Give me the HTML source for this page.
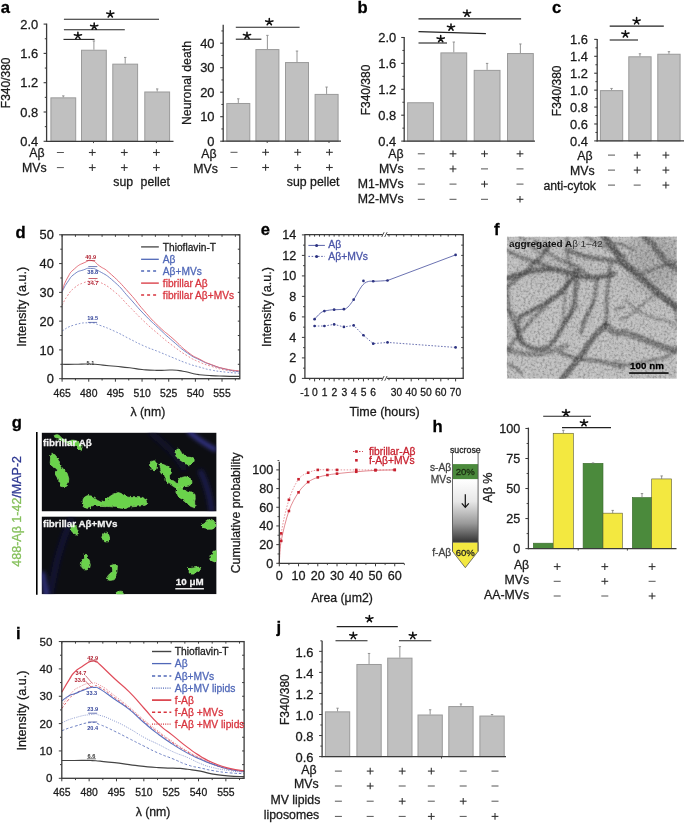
<!DOCTYPE html><html><head><meta charset="utf-8"><style>html,body{margin:0;padding:0;background:#fff;}svg{display:block;font-family:"Liberation Sans",sans-serif;filter:blur(0.3px);}</style></head><body>
<svg width="685" height="823" viewBox="0 0 685 823">
<rect x="0" y="0" width="685" height="823" fill="#ffffff" stroke="none" stroke-width="1" />
<text x="0.7" y="13.3" font-size="16.6" text-anchor="start" fill="#000" font-weight="bold" stroke="#000" stroke-width="0.28" >a</text>
<rect x="50.9" y="97.85" width="24.8" height="43.45" fill="#c0c0c0" stroke="#9a9a9a" stroke-width="1" />
<line x1="63.3" y1="95.89" x2="63.3" y2="97.35" stroke="#8a8a8a" stroke-width="0.9" />
<line x1="62.1" y1="95.89" x2="64.5" y2="95.89" stroke="#8a8a8a" stroke-width="0.9" />
<rect x="81.5" y="50.24" width="24.8" height="91.06" fill="#c0c0c0" stroke="#9a9a9a" stroke-width="1" />
<line x1="93.9" y1="40.95" x2="93.9" y2="49.74" stroke="#8a8a8a" stroke-width="0.9" />
<line x1="92.7" y1="40.95" x2="95.1" y2="40.95" stroke="#8a8a8a" stroke-width="0.9" />
<rect x="112.8" y="64.16" width="24.8" height="77.14" fill="#c0c0c0" stroke="#9a9a9a" stroke-width="1" />
<line x1="125.2" y1="57.43" x2="125.2" y2="63.66" stroke="#8a8a8a" stroke-width="0.9" />
<line x1="124" y1="57.43" x2="126.4" y2="57.43" stroke="#8a8a8a" stroke-width="0.9" />
<rect x="144.8" y="91.99" width="24.8" height="49.31" fill="#c0c0c0" stroke="#9a9a9a" stroke-width="1" />
<line x1="157.2" y1="88.93" x2="157.2" y2="91.49" stroke="#8a8a8a" stroke-width="0.9" />
<line x1="156" y1="88.93" x2="158.4" y2="88.93" stroke="#8a8a8a" stroke-width="0.9" />
<line x1="46.6" y1="23.6" x2="46.6" y2="141.9" stroke="#3a3a3a" stroke-width="1.3" />
<line x1="46" y1="141.3" x2="173.5" y2="141.3" stroke="#3a3a3a" stroke-width="1.3" />
<line x1="43.6" y1="141.3" x2="46.6" y2="141.3" stroke="#3a3a3a" stroke-width="1.1" />
<text x="38.2" y="145.92" font-size="12.9" text-anchor="end" fill="#1a1a1a" font-weight="normal" stroke="#1a1a1a" stroke-width="0.28" >0.4</text>
<line x1="43.6" y1="112" x2="46.6" y2="112" stroke="#3a3a3a" stroke-width="1.1" />
<text x="38.2" y="116.62" font-size="12.9" text-anchor="end" fill="#1a1a1a" font-weight="normal" stroke="#1a1a1a" stroke-width="0.28" >0.8</text>
<line x1="43.6" y1="82.7" x2="46.6" y2="82.7" stroke="#3a3a3a" stroke-width="1.1" />
<text x="38.2" y="87.32" font-size="12.9" text-anchor="end" fill="#1a1a1a" font-weight="normal" stroke="#1a1a1a" stroke-width="0.28" >1.2</text>
<line x1="43.6" y1="53.4" x2="46.6" y2="53.4" stroke="#3a3a3a" stroke-width="1.1" />
<text x="38.2" y="58.02" font-size="12.9" text-anchor="end" fill="#1a1a1a" font-weight="normal" stroke="#1a1a1a" stroke-width="0.28" >1.6</text>
<line x1="43.6" y1="24.1" x2="46.6" y2="24.1" stroke="#3a3a3a" stroke-width="1.1" />
<text x="38.2" y="28.72" font-size="12.9" text-anchor="end" fill="#1a1a1a" font-weight="normal" stroke="#1a1a1a" stroke-width="0.28" >2.0</text>
<line x1="44.8" y1="126.65" x2="46.6" y2="126.65" stroke="#3a3a3a" stroke-width="1" />
<line x1="44.8" y1="97.35" x2="46.6" y2="97.35" stroke="#3a3a3a" stroke-width="1" />
<line x1="44.8" y1="68.05" x2="46.6" y2="68.05" stroke="#3a3a3a" stroke-width="1" />
<line x1="44.8" y1="38.75" x2="46.6" y2="38.75" stroke="#3a3a3a" stroke-width="1" />
<line x1="93.5" y1="141.3" x2="93.5" y2="143.1" stroke="#3a3a3a" stroke-width="0.9" />
<line x1="156.4" y1="141.3" x2="156.4" y2="143.1" stroke="#3a3a3a" stroke-width="0.9" />
<text x="0" y="0" font-size="12" text-anchor="middle" fill="#1a1a1a" stroke="#1a1a1a" stroke-width="0.28" transform="translate(6,82.8) rotate(-90) translate(0,4.3)">F340/380</text>
<line x1="63.9" y1="19.3" x2="159" y2="19.3" stroke="#222" stroke-width="1.1" />
<path d="M110.3,14 L110.3,10.7 M110.3,14 L106.7,13.1 M110.3,14 L113.9,13.1 M110.3,14 L108.2,17 M110.3,14 L112.4,17" stroke="#111" stroke-width="1.55" fill="none" stroke-linecap="round"/>
<line x1="63.9" y1="29.8" x2="124.8" y2="29.8" stroke="#222" stroke-width="1.1" />
<path d="M94.2,26.3 L94.2,23 M94.2,26.3 L90.6,25.4 M94.2,26.3 L97.8,25.4 M94.2,26.3 L92.1,29.3 M94.2,26.3 L96.3,29.3" stroke="#111" stroke-width="1.55" fill="none" stroke-linecap="round"/>
<line x1="63.5" y1="39.4" x2="94.5" y2="39.4" stroke="#222" stroke-width="1.1" />
<path d="M77.9,35.6 L77.9,32.3 M77.9,35.6 L74.3,34.7 M77.9,35.6 L81.5,34.7 M77.9,35.6 L75.8,38.6 M77.9,35.6 L80,38.6" stroke="#111" stroke-width="1.55" fill="none" stroke-linecap="round"/>
<text x="44.6" y="156.85" font-size="12.3" text-anchor="end" fill="#1a1a1a" font-weight="normal" stroke="#1a1a1a" stroke-width="0.28" >A&#946;</text>
<line x1="56.9" y1="152.5" x2="63.9" y2="152.5" stroke="#555" stroke-width="1" />
<line x1="88.9" y1="152.5" x2="95.7" y2="152.5" stroke="#333" stroke-width="1.1" />
<line x1="92.3" y1="149.2" x2="92.3" y2="155.8" stroke="#333" stroke-width="1.1" />
<line x1="120.9" y1="152.5" x2="127.7" y2="152.5" stroke="#333" stroke-width="1.1" />
<line x1="124.3" y1="149.2" x2="124.3" y2="155.8" stroke="#333" stroke-width="1.1" />
<line x1="153" y1="152.5" x2="159.8" y2="152.5" stroke="#333" stroke-width="1.1" />
<line x1="156.4" y1="149.2" x2="156.4" y2="155.8" stroke="#333" stroke-width="1.1" />
<text x="46.6" y="171.75" font-size="12.3" text-anchor="end" fill="#1a1a1a" font-weight="normal" stroke="#1a1a1a" stroke-width="0.28" >MVs</text>
<line x1="56.9" y1="167.6" x2="63.9" y2="167.6" stroke="#555" stroke-width="1" />
<line x1="88.9" y1="167.6" x2="95.7" y2="167.6" stroke="#333" stroke-width="1.1" />
<line x1="92.3" y1="164.3" x2="92.3" y2="170.9" stroke="#333" stroke-width="1.1" />
<line x1="120.9" y1="167.6" x2="127.7" y2="167.6" stroke="#333" stroke-width="1.1" />
<line x1="124.3" y1="164.3" x2="124.3" y2="170.9" stroke="#333" stroke-width="1.1" />
<line x1="153" y1="167.6" x2="159.8" y2="167.6" stroke="#333" stroke-width="1.1" />
<line x1="156.4" y1="164.3" x2="156.4" y2="170.9" stroke="#333" stroke-width="1.1" />
<text x="123.2" y="186.3" font-size="12.3" text-anchor="middle" fill="#1a1a1a" font-weight="normal" stroke="#1a1a1a" stroke-width="0.28" >sup</text>
<text x="155.3" y="186.3" font-size="12.3" text-anchor="middle" fill="#1a1a1a" font-weight="normal" stroke="#1a1a1a" stroke-width="0.28" >pellet</text>
<rect x="226.8" y="103.48" width="23" height="37.72" fill="#c0c0c0" stroke="#9a9a9a" stroke-width="1" />
<line x1="238.3" y1="98.81" x2="238.3" y2="102.98" stroke="#8a8a8a" stroke-width="0.9" />
<line x1="237.1" y1="98.81" x2="239.5" y2="98.81" stroke="#8a8a8a" stroke-width="0.9" />
<rect x="255.9" y="49.58" width="23" height="91.62" fill="#c0c0c0" stroke="#9a9a9a" stroke-width="1" />
<line x1="267.4" y1="35.36" x2="267.4" y2="49.08" stroke="#8a8a8a" stroke-width="0.9" />
<line x1="266.2" y1="35.36" x2="268.6" y2="35.36" stroke="#8a8a8a" stroke-width="0.9" />
<rect x="285.5" y="62.56" width="23" height="78.63" fill="#c0c0c0" stroke="#9a9a9a" stroke-width="1" />
<line x1="297" y1="51.04" x2="297" y2="62.06" stroke="#8a8a8a" stroke-width="0.9" />
<line x1="295.8" y1="51.04" x2="298.2" y2="51.04" stroke="#8a8a8a" stroke-width="0.9" />
<rect x="315.1" y="94.41" width="23" height="46.78" fill="#c0c0c0" stroke="#9a9a9a" stroke-width="1" />
<line x1="326.6" y1="87.05" x2="326.6" y2="93.91" stroke="#8a8a8a" stroke-width="0.9" />
<line x1="325.4" y1="87.05" x2="327.8" y2="87.05" stroke="#8a8a8a" stroke-width="0.9" />
<line x1="223.2" y1="24.8" x2="223.2" y2="141.8" stroke="#3a3a3a" stroke-width="1.3" />
<line x1="222.6" y1="141.2" x2="341" y2="141.2" stroke="#3a3a3a" stroke-width="1.3" />
<line x1="220.2" y1="141.2" x2="223.2" y2="141.2" stroke="#3a3a3a" stroke-width="1.1" />
<text x="214.5" y="145.82" font-size="12.9" text-anchor="end" fill="#1a1a1a" font-weight="normal" stroke="#1a1a1a" stroke-width="0.28" >0</text>
<line x1="220.2" y1="116.7" x2="223.2" y2="116.7" stroke="#3a3a3a" stroke-width="1.1" />
<text x="214.5" y="121.32" font-size="12.9" text-anchor="end" fill="#1a1a1a" font-weight="normal" stroke="#1a1a1a" stroke-width="0.28" >10</text>
<line x1="220.2" y1="92.2" x2="223.2" y2="92.2" stroke="#3a3a3a" stroke-width="1.1" />
<text x="214.5" y="96.82" font-size="12.9" text-anchor="end" fill="#1a1a1a" font-weight="normal" stroke="#1a1a1a" stroke-width="0.28" >20</text>
<line x1="220.2" y1="67.7" x2="223.2" y2="67.7" stroke="#3a3a3a" stroke-width="1.1" />
<text x="214.5" y="72.32" font-size="12.9" text-anchor="end" fill="#1a1a1a" font-weight="normal" stroke="#1a1a1a" stroke-width="0.28" >30</text>
<line x1="220.2" y1="43.2" x2="223.2" y2="43.2" stroke="#3a3a3a" stroke-width="1.1" />
<text x="214.5" y="47.82" font-size="12.9" text-anchor="end" fill="#1a1a1a" font-weight="normal" stroke="#1a1a1a" stroke-width="0.28" >40</text>
<line x1="221.4" y1="128.95" x2="223.2" y2="128.95" stroke="#3a3a3a" stroke-width="1" />
<line x1="221.4" y1="104.45" x2="223.2" y2="104.45" stroke="#3a3a3a" stroke-width="1" />
<line x1="221.4" y1="79.95" x2="223.2" y2="79.95" stroke="#3a3a3a" stroke-width="1" />
<line x1="221.4" y1="55.45" x2="223.2" y2="55.45" stroke="#3a3a3a" stroke-width="1" />
<line x1="221.4" y1="30.95" x2="223.2" y2="30.95" stroke="#3a3a3a" stroke-width="1" />
<line x1="267.2" y1="141.2" x2="267.2" y2="143" stroke="#3a3a3a" stroke-width="0.9" />
<line x1="329" y1="141.2" x2="329" y2="143" stroke="#3a3a3a" stroke-width="0.9" />
<text x="0" y="0" font-size="12.3" text-anchor="middle" fill="#1a1a1a" stroke="#1a1a1a" stroke-width="0.28" transform="translate(186.2,83) rotate(-90) translate(0,4.4)">Neuronal death</text>
<line x1="235.8" y1="27.3" x2="299.6" y2="27.3" stroke="#222" stroke-width="1.1" />
<path d="M269.3,21.8 L269.3,18.5 M269.3,21.8 L265.7,20.9 M269.3,21.8 L272.9,20.9 M269.3,21.8 L267.2,24.8 M269.3,21.8 L271.4,24.8" stroke="#111" stroke-width="1.55" fill="none" stroke-linecap="round"/>
<line x1="235.8" y1="39.2" x2="261.4" y2="39.2" stroke="#222" stroke-width="1.1" />
<path d="M247,35.5 L247,32.2 M247,35.5 L243.4,34.6 M247,35.5 L250.6,34.6 M247,35.5 L244.9,38.5 M247,35.5 L249.1,38.5" stroke="#111" stroke-width="1.55" fill="none" stroke-linecap="round"/>
<text x="216.5" y="158.15" font-size="12.3" text-anchor="end" fill="#1a1a1a" font-weight="normal" stroke="#1a1a1a" stroke-width="0.28" >A&#946;</text>
<line x1="230.5" y1="152.3" x2="237.5" y2="152.3" stroke="#555" stroke-width="1" />
<line x1="262.2" y1="152.3" x2="269" y2="152.3" stroke="#333" stroke-width="1.1" />
<line x1="265.6" y1="149" x2="265.6" y2="155.6" stroke="#333" stroke-width="1.1" />
<line x1="294.3" y1="152.3" x2="301.1" y2="152.3" stroke="#333" stroke-width="1.1" />
<line x1="297.7" y1="149" x2="297.7" y2="155.6" stroke="#333" stroke-width="1.1" />
<line x1="326" y1="152.3" x2="332.8" y2="152.3" stroke="#333" stroke-width="1.1" />
<line x1="329.4" y1="149" x2="329.4" y2="155.6" stroke="#333" stroke-width="1.1" />
<text x="217.8" y="172.5" font-size="12.3" text-anchor="end" fill="#1a1a1a" font-weight="normal" stroke="#1a1a1a" stroke-width="0.28" >MVs</text>
<line x1="230.5" y1="167.5" x2="237.5" y2="167.5" stroke="#555" stroke-width="1" />
<line x1="262.2" y1="167.5" x2="269" y2="167.5" stroke="#333" stroke-width="1.1" />
<line x1="265.6" y1="164.2" x2="265.6" y2="170.8" stroke="#333" stroke-width="1.1" />
<line x1="294.3" y1="167.5" x2="301.1" y2="167.5" stroke="#333" stroke-width="1.1" />
<line x1="297.7" y1="164.2" x2="297.7" y2="170.8" stroke="#333" stroke-width="1.1" />
<line x1="326" y1="167.5" x2="332.8" y2="167.5" stroke="#333" stroke-width="1.1" />
<line x1="329.4" y1="164.2" x2="329.4" y2="170.8" stroke="#333" stroke-width="1.1" />
<text x="286.8" y="186" font-size="12.3" text-anchor="start" fill="#1a1a1a" font-weight="normal" stroke="#1a1a1a" stroke-width="0.28" >sup pellet</text>
<text x="357.4" y="13.2" font-size="16.6" text-anchor="start" fill="#000" font-weight="bold" stroke="#000" stroke-width="0.28" >b</text>
<rect x="407.6" y="102.75" width="25.8" height="38.35" fill="#c0c0c0" stroke="#9a9a9a" stroke-width="1" />
<rect x="440.9" y="52.89" width="25.8" height="88.21" fill="#c0c0c0" stroke="#9a9a9a" stroke-width="1" />
<line x1="453.8" y1="42.03" x2="453.8" y2="52.39" stroke="#8a8a8a" stroke-width="0.9" />
<line x1="452.6" y1="42.03" x2="455" y2="42.03" stroke="#8a8a8a" stroke-width="0.9" />
<rect x="474.2" y="70.38" width="25.8" height="70.72" fill="#c0c0c0" stroke="#9a9a9a" stroke-width="1" />
<line x1="487.1" y1="63.4" x2="487.1" y2="69.88" stroke="#8a8a8a" stroke-width="0.9" />
<line x1="485.9" y1="63.4" x2="488.3" y2="63.4" stroke="#8a8a8a" stroke-width="0.9" />
<rect x="507.5" y="53.54" width="25.8" height="87.56" fill="#c0c0c0" stroke="#9a9a9a" stroke-width="1" />
<line x1="520.4" y1="43.97" x2="520.4" y2="53.04" stroke="#8a8a8a" stroke-width="0.9" />
<line x1="519.2" y1="43.97" x2="521.6" y2="43.97" stroke="#8a8a8a" stroke-width="0.9" />
<line x1="404.2" y1="37" x2="404.2" y2="141.7" stroke="#3a3a3a" stroke-width="1.3" />
<line x1="403.6" y1="141.1" x2="535" y2="141.1" stroke="#3a3a3a" stroke-width="1.3" />
<line x1="401.2" y1="141.1" x2="404.2" y2="141.1" stroke="#3a3a3a" stroke-width="1.1" />
<text x="396.2" y="145.72" font-size="12.9" text-anchor="end" fill="#1a1a1a" font-weight="normal" stroke="#1a1a1a" stroke-width="0.28" >0.4</text>
<line x1="401.2" y1="115.2" x2="404.2" y2="115.2" stroke="#3a3a3a" stroke-width="1.1" />
<text x="396.2" y="119.82" font-size="12.9" text-anchor="end" fill="#1a1a1a" font-weight="normal" stroke="#1a1a1a" stroke-width="0.28" >0.8</text>
<line x1="401.2" y1="89.3" x2="404.2" y2="89.3" stroke="#3a3a3a" stroke-width="1.1" />
<text x="396.2" y="93.92" font-size="12.9" text-anchor="end" fill="#1a1a1a" font-weight="normal" stroke="#1a1a1a" stroke-width="0.28" >1.2</text>
<line x1="401.2" y1="63.4" x2="404.2" y2="63.4" stroke="#3a3a3a" stroke-width="1.1" />
<text x="396.2" y="68.02" font-size="12.9" text-anchor="end" fill="#1a1a1a" font-weight="normal" stroke="#1a1a1a" stroke-width="0.28" >1.6</text>
<line x1="401.2" y1="37.5" x2="404.2" y2="37.5" stroke="#3a3a3a" stroke-width="1.1" />
<text x="396.2" y="42.12" font-size="12.9" text-anchor="end" fill="#1a1a1a" font-weight="normal" stroke="#1a1a1a" stroke-width="0.28" >2.0</text>
<line x1="402.4" y1="128.15" x2="404.2" y2="128.15" stroke="#3a3a3a" stroke-width="1" />
<line x1="402.4" y1="102.25" x2="404.2" y2="102.25" stroke="#3a3a3a" stroke-width="1" />
<line x1="402.4" y1="76.35" x2="404.2" y2="76.35" stroke="#3a3a3a" stroke-width="1" />
<line x1="402.4" y1="50.45" x2="404.2" y2="50.45" stroke="#3a3a3a" stroke-width="1" />
<text x="0" y="0" font-size="12" text-anchor="middle" fill="#1a1a1a" stroke="#1a1a1a" stroke-width="0.28" transform="translate(366,90) rotate(-90) translate(0,4.3)">F340/380</text>
<line x1="418.5" y1="18.9" x2="521.1" y2="18.9" stroke="#222" stroke-width="1.1" />
<path d="M467,13.3 L467,10 M467,13.3 L463.4,12.4 M467,13.3 L470.6,12.4 M467,13.3 L464.9,16.3 M467,13.3 L469.1,16.3" stroke="#111" stroke-width="1.55" fill="none" stroke-linecap="round"/>
<line x1="418.5" y1="31.6" x2="485.9" y2="33.6" stroke="#222" stroke-width="1.1" />
<path d="M451,27.2 L451,23.9 M451,27.2 L447.4,26.3 M451,27.2 L454.6,26.3 M451,27.2 L448.9,30.2 M451,27.2 L453.1,30.2" stroke="#111" stroke-width="1.55" fill="none" stroke-linecap="round"/>
<line x1="418.5" y1="43" x2="447" y2="43" stroke="#222" stroke-width="1.1" />
<path d="M440.7,38.8 L440.7,35.5 M440.7,38.8 L437.1,37.9 M440.7,38.8 L444.3,37.9 M440.7,38.8 L438.6,41.8 M440.7,38.8 L442.8,41.8" stroke="#111" stroke-width="1.55" fill="none" stroke-linecap="round"/>
<text x="403.6" y="157.95" font-size="12.3" text-anchor="end" fill="#1a1a1a" font-weight="normal" stroke="#1a1a1a" stroke-width="0.28" >A&#946;</text>
<line x1="417.8" y1="153.8" x2="424.8" y2="153.8" stroke="#555" stroke-width="1" />
<line x1="449.6" y1="153.8" x2="456.4" y2="153.8" stroke="#333" stroke-width="1.1" />
<line x1="453" y1="150.5" x2="453" y2="157.1" stroke="#333" stroke-width="1.1" />
<line x1="481.1" y1="153.8" x2="487.9" y2="153.8" stroke="#333" stroke-width="1.1" />
<line x1="484.5" y1="150.5" x2="484.5" y2="157.1" stroke="#333" stroke-width="1.1" />
<line x1="516.6" y1="153.8" x2="523.4" y2="153.8" stroke="#333" stroke-width="1.1" />
<line x1="520" y1="150.5" x2="520" y2="157.1" stroke="#333" stroke-width="1.1" />
<text x="403.6" y="172.7" font-size="12.3" text-anchor="end" fill="#1a1a1a" font-weight="normal" stroke="#1a1a1a" stroke-width="0.28" >MVs</text>
<line x1="417.8" y1="168.9" x2="424.8" y2="168.9" stroke="#555" stroke-width="1" />
<line x1="449.6" y1="168.9" x2="456.4" y2="168.9" stroke="#333" stroke-width="1.1" />
<line x1="453" y1="165.6" x2="453" y2="172.2" stroke="#333" stroke-width="1.1" />
<line x1="481" y1="168.9" x2="488" y2="168.9" stroke="#555" stroke-width="1" />
<line x1="516.5" y1="168.9" x2="523.5" y2="168.9" stroke="#555" stroke-width="1" />
<text x="403.6" y="188.1" font-size="12.3" text-anchor="end" fill="#1a1a1a" font-weight="normal" stroke="#1a1a1a" stroke-width="0.28" >M1-MVs</text>
<line x1="417.8" y1="184.1" x2="424.8" y2="184.1" stroke="#555" stroke-width="1" />
<line x1="449.5" y1="184.1" x2="456.5" y2="184.1" stroke="#555" stroke-width="1" />
<line x1="481.1" y1="184.1" x2="487.9" y2="184.1" stroke="#333" stroke-width="1.1" />
<line x1="484.5" y1="180.8" x2="484.5" y2="187.4" stroke="#333" stroke-width="1.1" />
<line x1="516.5" y1="184.1" x2="523.5" y2="184.1" stroke="#555" stroke-width="1" />
<text x="403.6" y="203" font-size="12.3" text-anchor="end" fill="#1a1a1a" font-weight="normal" stroke="#1a1a1a" stroke-width="0.28" >M2-MVs</text>
<line x1="417.8" y1="199.3" x2="424.8" y2="199.3" stroke="#555" stroke-width="1" />
<line x1="449.5" y1="199.3" x2="456.5" y2="199.3" stroke="#555" stroke-width="1" />
<line x1="481" y1="199.3" x2="488" y2="199.3" stroke="#555" stroke-width="1" />
<line x1="516.6" y1="199.3" x2="523.4" y2="199.3" stroke="#333" stroke-width="1.1" />
<line x1="520" y1="196" x2="520" y2="202.6" stroke="#333" stroke-width="1.1" />
<text x="551.9" y="13.4" font-size="16.6" text-anchor="start" fill="#000" font-weight="bold" stroke="#000" stroke-width="0.28" >c</text>
<rect x="600.4" y="90.64" width="22.3" height="50.26" fill="#c0c0c0" stroke="#9a9a9a" stroke-width="1" />
<line x1="611.55" y1="88.45" x2="611.55" y2="90.14" stroke="#8a8a8a" stroke-width="0.9" />
<line x1="610.35" y1="88.45" x2="612.75" y2="88.45" stroke="#8a8a8a" stroke-width="0.9" />
<rect x="628.8" y="56.8" width="22.3" height="84.1" fill="#c0c0c0" stroke="#9a9a9a" stroke-width="1" />
<line x1="639.95" y1="53.76" x2="639.95" y2="56.3" stroke="#8a8a8a" stroke-width="0.9" />
<line x1="638.75" y1="53.76" x2="641.15" y2="53.76" stroke="#8a8a8a" stroke-width="0.9" />
<rect x="657.8" y="54.26" width="22.3" height="86.64" fill="#c0c0c0" stroke="#9a9a9a" stroke-width="1" />
<line x1="668.95" y1="51.65" x2="668.95" y2="53.76" stroke="#8a8a8a" stroke-width="0.9" />
<line x1="667.75" y1="51.65" x2="670.15" y2="51.65" stroke="#8a8a8a" stroke-width="0.9" />
<line x1="597.2" y1="38.88" x2="597.2" y2="141.5" stroke="#3a3a3a" stroke-width="1.3" />
<line x1="596.6" y1="140.9" x2="684" y2="140.9" stroke="#3a3a3a" stroke-width="1.3" />
<line x1="594.2" y1="140.9" x2="597.2" y2="140.9" stroke="#3a3a3a" stroke-width="1.1" />
<text x="587.9" y="145.52" font-size="12.9" text-anchor="end" fill="#1a1a1a" font-weight="normal" stroke="#1a1a1a" stroke-width="0.28" >0.4</text>
<line x1="594.2" y1="123.98" x2="597.2" y2="123.98" stroke="#3a3a3a" stroke-width="1.1" />
<text x="587.9" y="128.6" font-size="12.9" text-anchor="end" fill="#1a1a1a" font-weight="normal" stroke="#1a1a1a" stroke-width="0.28" >0.6</text>
<line x1="594.2" y1="107.06" x2="597.2" y2="107.06" stroke="#3a3a3a" stroke-width="1.1" />
<text x="587.9" y="111.68" font-size="12.9" text-anchor="end" fill="#1a1a1a" font-weight="normal" stroke="#1a1a1a" stroke-width="0.28" >0.8</text>
<line x1="594.2" y1="90.14" x2="597.2" y2="90.14" stroke="#3a3a3a" stroke-width="1.1" />
<text x="587.9" y="94.76" font-size="12.9" text-anchor="end" fill="#1a1a1a" font-weight="normal" stroke="#1a1a1a" stroke-width="0.28" >1.0</text>
<line x1="594.2" y1="73.22" x2="597.2" y2="73.22" stroke="#3a3a3a" stroke-width="1.1" />
<text x="587.9" y="77.84" font-size="12.9" text-anchor="end" fill="#1a1a1a" font-weight="normal" stroke="#1a1a1a" stroke-width="0.28" >1.2</text>
<line x1="594.2" y1="56.3" x2="597.2" y2="56.3" stroke="#3a3a3a" stroke-width="1.1" />
<text x="587.9" y="60.92" font-size="12.9" text-anchor="end" fill="#1a1a1a" font-weight="normal" stroke="#1a1a1a" stroke-width="0.28" >1.4</text>
<line x1="594.2" y1="39.38" x2="597.2" y2="39.38" stroke="#3a3a3a" stroke-width="1.1" />
<text x="587.9" y="44" font-size="12.9" text-anchor="end" fill="#1a1a1a" font-weight="normal" stroke="#1a1a1a" stroke-width="0.28" >1.6</text>
<line x1="595.4" y1="132.44" x2="597.2" y2="132.44" stroke="#3a3a3a" stroke-width="1" />
<line x1="595.4" y1="115.52" x2="597.2" y2="115.52" stroke="#3a3a3a" stroke-width="1" />
<line x1="595.4" y1="98.6" x2="597.2" y2="98.6" stroke="#3a3a3a" stroke-width="1" />
<line x1="595.4" y1="81.68" x2="597.2" y2="81.68" stroke="#3a3a3a" stroke-width="1" />
<line x1="595.4" y1="64.76" x2="597.2" y2="64.76" stroke="#3a3a3a" stroke-width="1" />
<line x1="595.4" y1="47.84" x2="597.2" y2="47.84" stroke="#3a3a3a" stroke-width="1" />
<text x="0" y="0" font-size="12" text-anchor="middle" fill="#1a1a1a" stroke="#1a1a1a" stroke-width="0.28" transform="translate(556.7,90.8) rotate(-90) translate(0,4.3)">F340/380</text>
<line x1="609.7" y1="26.1" x2="663.8" y2="26.1" stroke="#222" stroke-width="1.1" />
<path d="M636.6,20.9 L636.6,17.6 M636.6,20.9 L633,20 M636.6,20.9 L640.2,20 M636.6,20.9 L634.5,23.9 M636.6,20.9 L638.7,23.9" stroke="#111" stroke-width="1.55" fill="none" stroke-linecap="round"/>
<line x1="609.7" y1="40" x2="638" y2="40" stroke="#222" stroke-width="1.1" />
<path d="M625.4,34 L625.4,30.7 M625.4,34 L621.8,33.1 M625.4,34 L629,33.1 M625.4,34 L623.3,37 M625.4,34 L627.5,37" stroke="#111" stroke-width="1.55" fill="none" stroke-linecap="round"/>
<text x="592.6" y="160.15" font-size="12.3" text-anchor="end" fill="#1a1a1a" font-weight="normal" stroke="#1a1a1a" stroke-width="0.28" >A&#946;</text>
<line x1="608" y1="155.1" x2="615" y2="155.1" stroke="#555" stroke-width="1" />
<line x1="633.8" y1="155.1" x2="640.6" y2="155.1" stroke="#333" stroke-width="1.1" />
<line x1="637.2" y1="151.8" x2="637.2" y2="158.4" stroke="#333" stroke-width="1.1" />
<line x1="662.5" y1="155.1" x2="669.3" y2="155.1" stroke="#333" stroke-width="1.1" />
<line x1="665.9" y1="151.8" x2="665.9" y2="158.4" stroke="#333" stroke-width="1.1" />
<text x="594.6" y="175.05" font-size="12.3" text-anchor="end" fill="#1a1a1a" font-weight="normal" stroke="#1a1a1a" stroke-width="0.28" >MVs</text>
<line x1="608" y1="170.1" x2="615" y2="170.1" stroke="#555" stroke-width="1" />
<line x1="633.8" y1="170.1" x2="640.6" y2="170.1" stroke="#333" stroke-width="1.1" />
<line x1="637.2" y1="166.8" x2="637.2" y2="173.4" stroke="#333" stroke-width="1.1" />
<line x1="662.5" y1="170.1" x2="669.3" y2="170.1" stroke="#333" stroke-width="1.1" />
<line x1="665.9" y1="166.8" x2="665.9" y2="173.4" stroke="#333" stroke-width="1.1" />
<text x="596" y="189.9" font-size="12.3" text-anchor="end" fill="#1a1a1a" font-weight="normal" stroke="#1a1a1a" stroke-width="0.28" >anti-cytok</text>
<line x1="608" y1="185.1" x2="615" y2="185.1" stroke="#555" stroke-width="1" />
<line x1="633.7" y1="185.1" x2="640.7" y2="185.1" stroke="#555" stroke-width="1" />
<line x1="662.5" y1="185.1" x2="669.3" y2="185.1" stroke="#333" stroke-width="1.1" />
<line x1="665.9" y1="181.8" x2="665.9" y2="188.4" stroke="#333" stroke-width="1.1" />
<text x="15.6" y="237.9" font-size="16.6" text-anchor="start" fill="#000" font-weight="bold" stroke="#000" stroke-width="0.28" >d</text>
<path d="M62.1,364.31 C65.83,364.31 66.01,364.4 74.54,364.31 C83.07,364.22 82,363.76 90.53,364.02 C99.06,364.28 95.51,364.48 102.97,365.17 C110.43,365.86 107.41,365.55 115.41,366.32 C123.41,367.1 121.63,366.81 129.63,367.76 C137.62,368.71 134.07,368.71 142.06,369.49 C150.06,370.27 147.22,370.18 156.28,370.35 C165.34,370.53 164.28,369.81 172.27,370.07 C180.27,370.33 177.07,370.27 182.94,371.22 C188.8,372.17 187.02,372.2 191.82,373.23 C196.62,374.27 193.6,373.98 198.93,374.67 C204.26,375.36 202.13,375.1 209.59,375.53 C217.05,375.97 214.74,375.85 223.81,376.11 C232.87,376.37 235,376.31 239.8,376.4" stroke="#454545" stroke-width="1.1" fill="none"  stroke-linejoin="round"/>
<path d="M62.1,330.93 C65.83,329.11 66.01,327.3 74.54,324.88 C83.07,322.46 83.07,322.78 90.53,322.87 C98,322.95 92.22,322.67 99.42,325.17 C106.61,327.67 105.57,327.16 114.52,331.21 C123.48,335.27 120.47,334.29 129.27,338.7 C138.07,343.1 135.1,342.01 143.84,345.89 C152.58,349.78 149.67,348.11 158.41,351.65 C167.16,355.19 164.24,354.15 172.98,357.69 C181.73,361.23 179.45,360.6 187.56,363.45 C195.66,366.3 192.85,365.2 200,367.19 C207.14,369.17 203.69,368.6 211.37,370.07 C219.04,371.53 217.05,371.13 225.58,372.08 C234.11,373.03 235.54,372.89 239.8,373.23" stroke="#7b8cc8" stroke-width="0.9" fill="none" stroke-dasharray="1.8,1.8" stroke-linejoin="round"/>
<path d="M62.1,305.31 C63.7,302.46 63.7,301.08 67.43,295.81 C71.16,290.55 69.74,291.64 74.54,287.76 C79.34,283.87 78.09,284.93 83.42,282.86 C88.76,280.79 87.51,281.11 92.31,280.85 C97.11,280.59 92.75,278.72 99.42,282 C106.08,285.28 105.57,284.45 114.52,291.78 C123.48,299.12 120.47,297.66 129.27,306.46 C138.07,315.27 135.1,312.85 143.84,321.14 C152.58,329.43 149.67,326.67 158.41,334.09 C167.16,341.52 164.24,339.33 172.98,345.89 C181.73,352.45 179.45,351.04 187.56,355.96 C195.66,360.89 192.85,359.19 200,362.3 C207.14,365.4 203.69,363.99 211.37,366.32 C219.04,368.66 217.05,368.43 225.58,370.07 C234.11,371.71 235.54,371.27 239.8,371.79" stroke="#e88088" stroke-width="0.9" fill="none" stroke-dasharray="1.8,1.8" stroke-linejoin="round"/>
<path d="M62.1,291.78 C63.7,288.94 63.7,287.64 67.43,282.29 C71.16,276.93 69.74,277.65 74.54,273.94 C79.34,270.23 78.63,271.55 83.42,269.91 C88.22,268.27 85.73,268.04 90.53,268.47 C95.33,268.9 92.22,267.29 99.42,271.35 C106.61,275.41 105.57,274.06 114.52,282 C123.48,289.94 120.47,288.24 129.27,297.83 C138.07,307.41 135.1,304.88 143.84,313.94 C152.58,323.01 149.67,319.84 158.41,328.05 C167.16,336.25 164.24,333.77 172.98,341.29 C181.73,348.8 179.45,347.47 187.56,353.09 C195.66,358.7 192.85,356.45 200,359.99 C207.14,363.53 203.69,362.12 211.37,364.89 C219.04,367.65 217.05,367.13 225.58,369.2 C234.11,371.27 235.54,371.02 239.8,371.79" stroke="#6478c0" stroke-width="0.9" fill="none"  stroke-linejoin="round"/>
<path d="M62.1,290.63 C63.7,286.83 63.7,284.53 67.43,277.97 C71.16,271.41 69.31,273.42 74.54,268.76 C79.76,264.1 79.51,264.85 84.85,262.43 C90.18,260.01 87.94,259.67 92.31,260.7 C96.68,261.74 93.71,261.74 99.42,265.88 C105.12,270.03 102.37,266.4 111.32,274.52 C120.28,282.63 119.51,282.14 129.27,292.94 C139.03,303.73 135.1,300.56 143.84,310.49 C152.58,320.42 149.67,317.57 158.41,326.03 C167.16,334.49 164.24,330.93 172.98,338.7 C181.73,346.47 179.45,345.72 187.56,351.93 C195.66,358.15 192.85,355.62 200,359.42 C207.14,363.22 203.69,361.75 211.37,364.6 C219.04,367.45 217.05,367.02 225.58,368.91 C234.11,370.81 235.54,370.33 239.8,370.93" stroke="#e0606c" stroke-width="0.9" fill="none"  stroke-linejoin="round"/>
<rect x="62.1" y="234.8" width="177.7" height="143.9" fill="none" stroke="#3a3a3a" stroke-width="1.3" />
<line x1="59.1" y1="378.7" x2="62.1" y2="378.7" stroke="#3a3a3a" stroke-width="1" />
<line x1="239.8" y1="378.7" x2="237.8" y2="378.7" stroke="#3a3a3a" stroke-width="1" />
<text x="53.8" y="383.28" font-size="12.8" text-anchor="end" fill="#1a1a1a" font-weight="normal" stroke="#1a1a1a" stroke-width="0.28" >0</text>
<line x1="60.3" y1="364.31" x2="62.1" y2="364.31" stroke="#3a3a3a" stroke-width="1" />
<line x1="239.8" y1="364.31" x2="237.8" y2="364.31" stroke="#3a3a3a" stroke-width="1" />
<line x1="59.1" y1="349.92" x2="62.1" y2="349.92" stroke="#3a3a3a" stroke-width="1" />
<line x1="239.8" y1="349.92" x2="237.8" y2="349.92" stroke="#3a3a3a" stroke-width="1" />
<text x="53.8" y="354.5" font-size="12.8" text-anchor="end" fill="#1a1a1a" font-weight="normal" stroke="#1a1a1a" stroke-width="0.28" >10</text>
<line x1="60.3" y1="335.53" x2="62.1" y2="335.53" stroke="#3a3a3a" stroke-width="1" />
<line x1="239.8" y1="335.53" x2="237.8" y2="335.53" stroke="#3a3a3a" stroke-width="1" />
<line x1="59.1" y1="321.14" x2="62.1" y2="321.14" stroke="#3a3a3a" stroke-width="1" />
<line x1="239.8" y1="321.14" x2="237.8" y2="321.14" stroke="#3a3a3a" stroke-width="1" />
<text x="53.8" y="325.72" font-size="12.8" text-anchor="end" fill="#1a1a1a" font-weight="normal" stroke="#1a1a1a" stroke-width="0.28" >20</text>
<line x1="60.3" y1="306.75" x2="62.1" y2="306.75" stroke="#3a3a3a" stroke-width="1" />
<line x1="239.8" y1="306.75" x2="237.8" y2="306.75" stroke="#3a3a3a" stroke-width="1" />
<line x1="59.1" y1="292.36" x2="62.1" y2="292.36" stroke="#3a3a3a" stroke-width="1" />
<line x1="239.8" y1="292.36" x2="237.8" y2="292.36" stroke="#3a3a3a" stroke-width="1" />
<text x="53.8" y="296.94" font-size="12.8" text-anchor="end" fill="#1a1a1a" font-weight="normal" stroke="#1a1a1a" stroke-width="0.28" >30</text>
<line x1="60.3" y1="277.97" x2="62.1" y2="277.97" stroke="#3a3a3a" stroke-width="1" />
<line x1="239.8" y1="277.97" x2="237.8" y2="277.97" stroke="#3a3a3a" stroke-width="1" />
<line x1="59.1" y1="263.58" x2="62.1" y2="263.58" stroke="#3a3a3a" stroke-width="1" />
<line x1="239.8" y1="263.58" x2="237.8" y2="263.58" stroke="#3a3a3a" stroke-width="1" />
<text x="53.8" y="268.16" font-size="12.8" text-anchor="end" fill="#1a1a1a" font-weight="normal" stroke="#1a1a1a" stroke-width="0.28" >40</text>
<line x1="60.3" y1="249.19" x2="62.1" y2="249.19" stroke="#3a3a3a" stroke-width="1" />
<line x1="239.8" y1="249.19" x2="237.8" y2="249.19" stroke="#3a3a3a" stroke-width="1" />
<line x1="59.1" y1="234.8" x2="62.1" y2="234.8" stroke="#3a3a3a" stroke-width="1" />
<line x1="239.8" y1="234.8" x2="237.8" y2="234.8" stroke="#3a3a3a" stroke-width="1" />
<text x="53.8" y="239.38" font-size="12.8" text-anchor="end" fill="#1a1a1a" font-weight="normal" stroke="#1a1a1a" stroke-width="0.28" >50</text>
<line x1="62.1" y1="378.7" x2="62.1" y2="381.7" stroke="#3a3a3a" stroke-width="1" />
<line x1="62.1" y1="234.8" x2="62.1" y2="236.8" stroke="#3a3a3a" stroke-width="1" />
<text x="62.1" y="396.62" font-size="10.4" text-anchor="middle" fill="#1a1a1a" font-weight="normal" stroke="#1a1a1a" stroke-width="0.28" >465</text>
<line x1="75.43" y1="378.7" x2="75.43" y2="380.5" stroke="#3a3a3a" stroke-width="1" />
<line x1="75.43" y1="234.8" x2="75.43" y2="236.8" stroke="#3a3a3a" stroke-width="1" />
<line x1="88.75" y1="378.7" x2="88.75" y2="381.7" stroke="#3a3a3a" stroke-width="1" />
<line x1="88.75" y1="234.8" x2="88.75" y2="236.8" stroke="#3a3a3a" stroke-width="1" />
<text x="88.75" y="396.62" font-size="10.4" text-anchor="middle" fill="#1a1a1a" font-weight="normal" stroke="#1a1a1a" stroke-width="0.28" >480</text>
<line x1="102.08" y1="378.7" x2="102.08" y2="380.5" stroke="#3a3a3a" stroke-width="1" />
<line x1="102.08" y1="234.8" x2="102.08" y2="236.8" stroke="#3a3a3a" stroke-width="1" />
<line x1="115.41" y1="378.7" x2="115.41" y2="381.7" stroke="#3a3a3a" stroke-width="1" />
<line x1="115.41" y1="234.8" x2="115.41" y2="236.8" stroke="#3a3a3a" stroke-width="1" />
<text x="115.41" y="396.62" font-size="10.4" text-anchor="middle" fill="#1a1a1a" font-weight="normal" stroke="#1a1a1a" stroke-width="0.28" >495</text>
<line x1="128.74" y1="378.7" x2="128.74" y2="380.5" stroke="#3a3a3a" stroke-width="1" />
<line x1="128.74" y1="234.8" x2="128.74" y2="236.8" stroke="#3a3a3a" stroke-width="1" />
<line x1="142.06" y1="378.7" x2="142.06" y2="381.7" stroke="#3a3a3a" stroke-width="1" />
<line x1="142.06" y1="234.8" x2="142.06" y2="236.8" stroke="#3a3a3a" stroke-width="1" />
<text x="142.06" y="396.62" font-size="10.4" text-anchor="middle" fill="#1a1a1a" font-weight="normal" stroke="#1a1a1a" stroke-width="0.28" >510</text>
<line x1="155.39" y1="378.7" x2="155.39" y2="380.5" stroke="#3a3a3a" stroke-width="1" />
<line x1="155.39" y1="234.8" x2="155.39" y2="236.8" stroke="#3a3a3a" stroke-width="1" />
<line x1="168.72" y1="378.7" x2="168.72" y2="381.7" stroke="#3a3a3a" stroke-width="1" />
<line x1="168.72" y1="234.8" x2="168.72" y2="236.8" stroke="#3a3a3a" stroke-width="1" />
<text x="168.72" y="396.62" font-size="10.4" text-anchor="middle" fill="#1a1a1a" font-weight="normal" stroke="#1a1a1a" stroke-width="0.28" >525</text>
<line x1="182.05" y1="378.7" x2="182.05" y2="380.5" stroke="#3a3a3a" stroke-width="1" />
<line x1="182.05" y1="234.8" x2="182.05" y2="236.8" stroke="#3a3a3a" stroke-width="1" />
<line x1="195.38" y1="378.7" x2="195.38" y2="381.7" stroke="#3a3a3a" stroke-width="1" />
<line x1="195.38" y1="234.8" x2="195.38" y2="236.8" stroke="#3a3a3a" stroke-width="1" />
<text x="195.38" y="396.62" font-size="10.4" text-anchor="middle" fill="#1a1a1a" font-weight="normal" stroke="#1a1a1a" stroke-width="0.28" >540</text>
<line x1="208.7" y1="378.7" x2="208.7" y2="380.5" stroke="#3a3a3a" stroke-width="1" />
<line x1="208.7" y1="234.8" x2="208.7" y2="236.8" stroke="#3a3a3a" stroke-width="1" />
<line x1="222.03" y1="378.7" x2="222.03" y2="381.7" stroke="#3a3a3a" stroke-width="1" />
<line x1="222.03" y1="234.8" x2="222.03" y2="236.8" stroke="#3a3a3a" stroke-width="1" />
<text x="222.03" y="396.62" font-size="10.4" text-anchor="middle" fill="#1a1a1a" font-weight="normal" stroke="#1a1a1a" stroke-width="0.28" >555</text>
<line x1="235.36" y1="378.7" x2="235.36" y2="380.5" stroke="#3a3a3a" stroke-width="1" />
<line x1="235.36" y1="234.8" x2="235.36" y2="236.8" stroke="#3a3a3a" stroke-width="1" />
<text x="147.85" y="415.7" font-size="12.3" text-anchor="middle" fill="#1a1a1a" font-weight="normal" stroke="#1a1a1a" stroke-width="0.28" >&#955; (nm)</text>
<text x="0" y="0" font-size="12.6" text-anchor="middle" fill="#1a1a1a" stroke="#1a1a1a" stroke-width="0.28" transform="translate(21.2,306.8) rotate(-90) translate(0,4.51)">Intensity (a.u.)</text>
<line x1="141.1" y1="246.9" x2="158.8" y2="246.9" stroke="#444" stroke-width="1.3" />
<text x="162.8" y="250.55" font-size="10.2" text-anchor="start" fill="#1a1a1a" font-weight="normal" stroke="#1a1a1a" stroke-width="0.28" >Thioflavin-T</text>
<line x1="141.1" y1="259.3" x2="158.8" y2="259.3" stroke="#5068b8" stroke-width="1.3" />
<text x="162.8" y="262.95" font-size="10.2" text-anchor="start" fill="#5068b8" font-weight="normal" stroke="#5068b8" stroke-width="0.28" >A&#946;</text>
<line x1="141.1" y1="271" x2="158.8" y2="271" stroke="#5068b8" stroke-width="1.3" stroke-dasharray="3,3"/>
<text x="162.8" y="274.65" font-size="10.2" text-anchor="start" fill="#5068b8" font-weight="normal" stroke="#5068b8" stroke-width="0.28" >A&#946;+MVs</text>
<line x1="141.1" y1="283.1" x2="158.8" y2="283.1" stroke="#d8343e" stroke-width="1.3" />
<text x="162.8" y="286.75" font-size="10.2" text-anchor="start" fill="#d8343e" font-weight="normal" stroke="#d8343e" stroke-width="0.28" >fibrillar A&#946;</text>
<line x1="141.1" y1="295" x2="158.8" y2="295" stroke="#d8343e" stroke-width="1.3" stroke-dasharray="3,3"/>
<text x="162.8" y="298.65" font-size="10.2" text-anchor="start" fill="#d8343e" font-weight="normal" stroke="#d8343e" stroke-width="0.28" >fibrillar A&#946;+MVs</text>
<text x="90.7" y="259.4" font-size="5.6" text-anchor="middle" fill="#b02030" font-weight="bold" >40.9</text>
<line x1="86.2" y1="260.6" x2="95.2" y2="260.6" stroke="#b02030" stroke-width="0.7" />
<text x="92.8" y="273.8" font-size="5.6" text-anchor="middle" fill="#33449a" font-weight="bold" >38.8</text>
<line x1="88.3" y1="266.6" x2="97.3" y2="266.6" stroke="#33449a" stroke-width="0.7" />
<text x="93" y="284.7" font-size="5.6" text-anchor="middle" fill="#b02030" font-weight="bold" >34.7</text>
<line x1="88.5" y1="278.5" x2="97.5" y2="278.5" stroke="#b02030" stroke-width="0.7" />
<text x="92.6" y="319.8" font-size="5.6" text-anchor="middle" fill="#33449a" font-weight="bold" >19.5</text>
<line x1="88.1" y1="322.4" x2="97.1" y2="322.4" stroke="#33449a" stroke-width="0.7" />
<text x="90.5" y="364.6" font-size="5.6" text-anchor="middle" fill="#333" font-weight="bold" >5.1</text>
<text x="260.7" y="234.8" font-size="16.6" text-anchor="start" fill="#000" font-weight="bold" stroke="#000" stroke-width="0.28" >e</text>
<path d="M314.6,319.15 C318.6,314.65 321.37,311.56 324.37,311.06 C328.37,310.26 331.14,309.72 334.14,309.72 C337.14,309.72 340.91,309.51 343.91,309.21 C347.91,308.71 350.68,303.68 353.68,299.68 C357.68,293.68 361.45,283.92 366.45,282.12 C369.45,280.92 370.22,281.23 373.22,281.23 C378.22,281.23 383.52,280.81 387.52,280.51 L455.6,254.89" stroke="#5a62a8" stroke-width="0.9" fill="none" />
<path d="M314.6,326.02 L324.37,326.02 L334.14,324.38 L343.91,326.94 L353.68,325.41 L363.45,335.25 L373.22,343.65 L387.52,342.42 L455.6,347.44" stroke="#5a62a8" stroke-width="0.9" fill="none" stroke-dasharray="1.6,1.6"/>
<circle cx="314.6" cy="319.15" r="1.35" fill="#2c3280"/>
<circle cx="324.37" cy="311.06" r="1.35" fill="#2c3280"/>
<circle cx="334.14" cy="309.72" r="1.35" fill="#2c3280"/>
<circle cx="343.91" cy="309.21" r="1.35" fill="#2c3280"/>
<circle cx="353.68" cy="299.68" r="1.35" fill="#2c3280"/>
<circle cx="363.45" cy="280.92" r="1.35" fill="#2c3280"/>
<circle cx="373.22" cy="281.23" r="1.35" fill="#2c3280"/>
<circle cx="387.52" cy="280.51" r="1.35" fill="#2c3280"/>
<circle cx="455.6" cy="254.89" r="1.35" fill="#2c3280"/>
<circle cx="314.6" cy="326.02" r="1.35" fill="#2c3280"/>
<circle cx="324.37" cy="326.02" r="1.35" fill="#2c3280"/>
<circle cx="334.14" cy="324.38" r="1.35" fill="#2c3280"/>
<circle cx="343.91" cy="326.94" r="1.35" fill="#2c3280"/>
<circle cx="353.68" cy="325.41" r="1.35" fill="#2c3280"/>
<circle cx="363.45" cy="335.25" r="1.35" fill="#2c3280"/>
<circle cx="373.22" cy="343.65" r="1.35" fill="#2c3280"/>
<circle cx="387.52" cy="342.42" r="1.35" fill="#2c3280"/>
<circle cx="455.6" cy="347.44" r="1.35" fill="#2c3280"/>
<line x1="304.9" y1="234.6" x2="382.7" y2="234.6" stroke="#3a3a3a" stroke-width="1.3" />
<line x1="386.9" y1="234.6" x2="463.2" y2="234.6" stroke="#3a3a3a" stroke-width="1.3" />
<line x1="304.9" y1="378.4" x2="382.7" y2="378.4" stroke="#3a3a3a" stroke-width="1.3" />
<line x1="386.9" y1="378.4" x2="463.2" y2="378.4" stroke="#3a3a3a" stroke-width="1.3" />
<line x1="304.9" y1="234" x2="304.9" y2="379" stroke="#3a3a3a" stroke-width="1.3" />
<line x1="463.2" y1="234" x2="463.2" y2="379" stroke="#3a3a3a" stroke-width="1.3" />
<line x1="381.7" y1="237" x2="384.1" y2="232.2" stroke="#3a3a3a" stroke-width="0.9" />
<line x1="384.7" y1="237" x2="387.1" y2="232.2" stroke="#3a3a3a" stroke-width="0.9" />
<line x1="381.7" y1="380.8" x2="384.1" y2="376" stroke="#3a3a3a" stroke-width="0.9" />
<line x1="384.7" y1="380.8" x2="387.1" y2="376" stroke="#3a3a3a" stroke-width="0.9" />
<line x1="301.9" y1="378.4" x2="304.9" y2="378.4" stroke="#3a3a3a" stroke-width="1" />
<line x1="463.2" y1="378.4" x2="461.2" y2="378.4" stroke="#3a3a3a" stroke-width="1" />
<text x="296.3" y="382.91" font-size="12.6" text-anchor="end" fill="#1a1a1a" font-weight="normal" stroke="#1a1a1a" stroke-width="0.28" >0</text>
<line x1="303.1" y1="368.15" x2="304.9" y2="368.15" stroke="#3a3a3a" stroke-width="1" />
<line x1="463.2" y1="368.15" x2="461.2" y2="368.15" stroke="#3a3a3a" stroke-width="1" />
<line x1="301.9" y1="357.9" x2="304.9" y2="357.9" stroke="#3a3a3a" stroke-width="1" />
<line x1="463.2" y1="357.9" x2="461.2" y2="357.9" stroke="#3a3a3a" stroke-width="1" />
<text x="296.3" y="362.41" font-size="12.6" text-anchor="end" fill="#1a1a1a" font-weight="normal" stroke="#1a1a1a" stroke-width="0.28" >2</text>
<line x1="303.1" y1="347.65" x2="304.9" y2="347.65" stroke="#3a3a3a" stroke-width="1" />
<line x1="463.2" y1="347.65" x2="461.2" y2="347.65" stroke="#3a3a3a" stroke-width="1" />
<line x1="301.9" y1="337.4" x2="304.9" y2="337.4" stroke="#3a3a3a" stroke-width="1" />
<line x1="463.2" y1="337.4" x2="461.2" y2="337.4" stroke="#3a3a3a" stroke-width="1" />
<text x="296.3" y="341.91" font-size="12.6" text-anchor="end" fill="#1a1a1a" font-weight="normal" stroke="#1a1a1a" stroke-width="0.28" >4</text>
<line x1="303.1" y1="327.15" x2="304.9" y2="327.15" stroke="#3a3a3a" stroke-width="1" />
<line x1="463.2" y1="327.15" x2="461.2" y2="327.15" stroke="#3a3a3a" stroke-width="1" />
<line x1="301.9" y1="316.9" x2="304.9" y2="316.9" stroke="#3a3a3a" stroke-width="1" />
<line x1="463.2" y1="316.9" x2="461.2" y2="316.9" stroke="#3a3a3a" stroke-width="1" />
<text x="296.3" y="321.41" font-size="12.6" text-anchor="end" fill="#1a1a1a" font-weight="normal" stroke="#1a1a1a" stroke-width="0.28" >6</text>
<line x1="303.1" y1="306.65" x2="304.9" y2="306.65" stroke="#3a3a3a" stroke-width="1" />
<line x1="463.2" y1="306.65" x2="461.2" y2="306.65" stroke="#3a3a3a" stroke-width="1" />
<line x1="301.9" y1="296.4" x2="304.9" y2="296.4" stroke="#3a3a3a" stroke-width="1" />
<line x1="463.2" y1="296.4" x2="461.2" y2="296.4" stroke="#3a3a3a" stroke-width="1" />
<text x="296.3" y="300.91" font-size="12.6" text-anchor="end" fill="#1a1a1a" font-weight="normal" stroke="#1a1a1a" stroke-width="0.28" >8</text>
<line x1="303.1" y1="286.15" x2="304.9" y2="286.15" stroke="#3a3a3a" stroke-width="1" />
<line x1="463.2" y1="286.15" x2="461.2" y2="286.15" stroke="#3a3a3a" stroke-width="1" />
<line x1="301.9" y1="275.9" x2="304.9" y2="275.9" stroke="#3a3a3a" stroke-width="1" />
<line x1="463.2" y1="275.9" x2="461.2" y2="275.9" stroke="#3a3a3a" stroke-width="1" />
<text x="296.3" y="280.41" font-size="12.6" text-anchor="end" fill="#1a1a1a" font-weight="normal" stroke="#1a1a1a" stroke-width="0.28" >10</text>
<line x1="303.1" y1="265.65" x2="304.9" y2="265.65" stroke="#3a3a3a" stroke-width="1" />
<line x1="463.2" y1="265.65" x2="461.2" y2="265.65" stroke="#3a3a3a" stroke-width="1" />
<line x1="301.9" y1="255.4" x2="304.9" y2="255.4" stroke="#3a3a3a" stroke-width="1" />
<line x1="463.2" y1="255.4" x2="461.2" y2="255.4" stroke="#3a3a3a" stroke-width="1" />
<text x="296.3" y="259.91" font-size="12.6" text-anchor="end" fill="#1a1a1a" font-weight="normal" stroke="#1a1a1a" stroke-width="0.28" >12</text>
<line x1="303.1" y1="245.15" x2="304.9" y2="245.15" stroke="#3a3a3a" stroke-width="1" />
<line x1="463.2" y1="245.15" x2="461.2" y2="245.15" stroke="#3a3a3a" stroke-width="1" />
<line x1="301.9" y1="234.9" x2="304.9" y2="234.9" stroke="#3a3a3a" stroke-width="1" />
<line x1="463.2" y1="234.9" x2="461.2" y2="234.9" stroke="#3a3a3a" stroke-width="1" />
<text x="296.3" y="239.41" font-size="12.6" text-anchor="end" fill="#1a1a1a" font-weight="normal" stroke="#1a1a1a" stroke-width="0.28" >14</text>
<line x1="309.72" y1="378.4" x2="309.72" y2="380.2" stroke="#3a3a3a" stroke-width="1" />
<line x1="309.72" y1="234.6" x2="309.72" y2="236.6" stroke="#3a3a3a" stroke-width="1" />
<line x1="314.6" y1="378.4" x2="314.6" y2="381.4" stroke="#3a3a3a" stroke-width="1" />
<line x1="314.6" y1="234.6" x2="314.6" y2="236.6" stroke="#3a3a3a" stroke-width="1" />
<line x1="319.49" y1="378.4" x2="319.49" y2="380.2" stroke="#3a3a3a" stroke-width="1" />
<line x1="319.49" y1="234.6" x2="319.49" y2="236.6" stroke="#3a3a3a" stroke-width="1" />
<line x1="324.37" y1="378.4" x2="324.37" y2="381.4" stroke="#3a3a3a" stroke-width="1" />
<line x1="324.37" y1="234.6" x2="324.37" y2="236.6" stroke="#3a3a3a" stroke-width="1" />
<line x1="329.25" y1="378.4" x2="329.25" y2="380.2" stroke="#3a3a3a" stroke-width="1" />
<line x1="329.25" y1="234.6" x2="329.25" y2="236.6" stroke="#3a3a3a" stroke-width="1" />
<line x1="334.14" y1="378.4" x2="334.14" y2="381.4" stroke="#3a3a3a" stroke-width="1" />
<line x1="334.14" y1="234.6" x2="334.14" y2="236.6" stroke="#3a3a3a" stroke-width="1" />
<line x1="339.03" y1="378.4" x2="339.03" y2="380.2" stroke="#3a3a3a" stroke-width="1" />
<line x1="339.03" y1="234.6" x2="339.03" y2="236.6" stroke="#3a3a3a" stroke-width="1" />
<line x1="343.91" y1="378.4" x2="343.91" y2="381.4" stroke="#3a3a3a" stroke-width="1" />
<line x1="343.91" y1="234.6" x2="343.91" y2="236.6" stroke="#3a3a3a" stroke-width="1" />
<line x1="348.8" y1="378.4" x2="348.8" y2="380.2" stroke="#3a3a3a" stroke-width="1" />
<line x1="348.8" y1="234.6" x2="348.8" y2="236.6" stroke="#3a3a3a" stroke-width="1" />
<line x1="353.68" y1="378.4" x2="353.68" y2="381.4" stroke="#3a3a3a" stroke-width="1" />
<line x1="353.68" y1="234.6" x2="353.68" y2="236.6" stroke="#3a3a3a" stroke-width="1" />
<line x1="358.56" y1="378.4" x2="358.56" y2="380.2" stroke="#3a3a3a" stroke-width="1" />
<line x1="358.56" y1="234.6" x2="358.56" y2="236.6" stroke="#3a3a3a" stroke-width="1" />
<line x1="363.45" y1="378.4" x2="363.45" y2="381.4" stroke="#3a3a3a" stroke-width="1" />
<line x1="363.45" y1="234.6" x2="363.45" y2="236.6" stroke="#3a3a3a" stroke-width="1" />
<line x1="368.34" y1="378.4" x2="368.34" y2="380.2" stroke="#3a3a3a" stroke-width="1" />
<line x1="368.34" y1="234.6" x2="368.34" y2="236.6" stroke="#3a3a3a" stroke-width="1" />
<line x1="373.22" y1="378.4" x2="373.22" y2="381.4" stroke="#3a3a3a" stroke-width="1" />
<line x1="373.22" y1="234.6" x2="373.22" y2="236.6" stroke="#3a3a3a" stroke-width="1" />
<line x1="378.11" y1="378.4" x2="378.11" y2="380.2" stroke="#3a3a3a" stroke-width="1" />
<line x1="378.11" y1="234.6" x2="378.11" y2="236.6" stroke="#3a3a3a" stroke-width="1" />
<line x1="389" y1="378.4" x2="389" y2="380.2" stroke="#3a3a3a" stroke-width="1" />
<line x1="389" y1="234.6" x2="389" y2="236.6" stroke="#3a3a3a" stroke-width="1" />
<line x1="396.4" y1="378.4" x2="396.4" y2="381.4" stroke="#3a3a3a" stroke-width="1" />
<line x1="396.4" y1="234.6" x2="396.4" y2="236.6" stroke="#3a3a3a" stroke-width="1" />
<line x1="403.8" y1="378.4" x2="403.8" y2="380.2" stroke="#3a3a3a" stroke-width="1" />
<line x1="403.8" y1="234.6" x2="403.8" y2="236.6" stroke="#3a3a3a" stroke-width="1" />
<line x1="411.2" y1="378.4" x2="411.2" y2="381.4" stroke="#3a3a3a" stroke-width="1" />
<line x1="411.2" y1="234.6" x2="411.2" y2="236.6" stroke="#3a3a3a" stroke-width="1" />
<line x1="418.6" y1="378.4" x2="418.6" y2="380.2" stroke="#3a3a3a" stroke-width="1" />
<line x1="418.6" y1="234.6" x2="418.6" y2="236.6" stroke="#3a3a3a" stroke-width="1" />
<line x1="426" y1="378.4" x2="426" y2="381.4" stroke="#3a3a3a" stroke-width="1" />
<line x1="426" y1="234.6" x2="426" y2="236.6" stroke="#3a3a3a" stroke-width="1" />
<line x1="433.4" y1="378.4" x2="433.4" y2="380.2" stroke="#3a3a3a" stroke-width="1" />
<line x1="433.4" y1="234.6" x2="433.4" y2="236.6" stroke="#3a3a3a" stroke-width="1" />
<line x1="440.8" y1="378.4" x2="440.8" y2="381.4" stroke="#3a3a3a" stroke-width="1" />
<line x1="440.8" y1="234.6" x2="440.8" y2="236.6" stroke="#3a3a3a" stroke-width="1" />
<line x1="448.2" y1="378.4" x2="448.2" y2="380.2" stroke="#3a3a3a" stroke-width="1" />
<line x1="448.2" y1="234.6" x2="448.2" y2="236.6" stroke="#3a3a3a" stroke-width="1" />
<line x1="455.6" y1="378.4" x2="455.6" y2="381.4" stroke="#3a3a3a" stroke-width="1" />
<line x1="455.6" y1="234.6" x2="455.6" y2="236.6" stroke="#3a3a3a" stroke-width="1" />
<text x="304.8" y="396.29" font-size="10.3" text-anchor="middle" fill="#1a1a1a" font-weight="normal" stroke="#1a1a1a" stroke-width="0.28" >-1</text>
<text x="314.8" y="396.29" font-size="10.3" text-anchor="middle" fill="#1a1a1a" font-weight="normal" stroke="#1a1a1a" stroke-width="0.28" >0</text>
<text x="324.6" y="396.29" font-size="10.3" text-anchor="middle" fill="#1a1a1a" font-weight="normal" stroke="#1a1a1a" stroke-width="0.28" >1</text>
<text x="334.3" y="396.29" font-size="10.3" text-anchor="middle" fill="#1a1a1a" font-weight="normal" stroke="#1a1a1a" stroke-width="0.28" >2</text>
<text x="344.3" y="396.29" font-size="10.3" text-anchor="middle" fill="#1a1a1a" font-weight="normal" stroke="#1a1a1a" stroke-width="0.28" >3</text>
<text x="353.9" y="396.29" font-size="10.3" text-anchor="middle" fill="#1a1a1a" font-weight="normal" stroke="#1a1a1a" stroke-width="0.28" >4</text>
<text x="363.5" y="396.29" font-size="10.3" text-anchor="middle" fill="#1a1a1a" font-weight="normal" stroke="#1a1a1a" stroke-width="0.28" >5</text>
<text x="373.1" y="396.29" font-size="10.3" text-anchor="middle" fill="#1a1a1a" font-weight="normal" stroke="#1a1a1a" stroke-width="0.28" >6</text>
<text x="396.4" y="396.29" font-size="10.3" text-anchor="middle" fill="#1a1a1a" font-weight="normal" stroke="#1a1a1a" stroke-width="0.28" >30</text>
<text x="411.3" y="396.29" font-size="10.3" text-anchor="middle" fill="#1a1a1a" font-weight="normal" stroke="#1a1a1a" stroke-width="0.28" >40</text>
<text x="425.9" y="396.29" font-size="10.3" text-anchor="middle" fill="#1a1a1a" font-weight="normal" stroke="#1a1a1a" stroke-width="0.28" >50</text>
<text x="440.7" y="396.29" font-size="10.3" text-anchor="middle" fill="#1a1a1a" font-weight="normal" stroke="#1a1a1a" stroke-width="0.28" >60</text>
<text x="455.6" y="396.29" font-size="10.3" text-anchor="middle" fill="#1a1a1a" font-weight="normal" stroke="#1a1a1a" stroke-width="0.28" >70</text>
<text x="384.6" y="415.7" font-size="12.5" text-anchor="middle" fill="#1a1a1a" font-weight="normal" stroke="#1a1a1a" stroke-width="0.28" >Time (hours)</text>
<text x="0" y="0" font-size="12.6" text-anchor="middle" fill="#1a1a1a" stroke="#1a1a1a" stroke-width="0.28" transform="translate(266.6,307) rotate(-90) translate(0,4.51)">Intensity (a.u.)</text>
<line x1="308.4" y1="245.4" x2="324.9" y2="245.4" stroke="#5a62a8" stroke-width="1" />
<circle cx="316.6" cy="245.4" r="1.5" fill="#2c3280"/>
<line x1="308.4" y1="256.4" x2="324.9" y2="256.4" stroke="#5a62a8" stroke-width="1" stroke-dasharray="1.6,1.6"/>
<circle cx="316.6" cy="256.4" r="1.5" fill="#2c3280"/>
<text x="328.3" y="247.92" font-size="10.4" text-anchor="start" fill="#4a55a8" font-weight="normal" stroke="#4a55a8" stroke-width="0.28" >A&#946;</text>
<text x="328.3" y="260.12" font-size="10.4" text-anchor="start" fill="#4a55a8" font-weight="normal" stroke="#4a55a8" stroke-width="0.28" >A&#946;+MVs</text>
<text x="494.1" y="234.6" font-size="16.6" text-anchor="start" fill="#000" font-weight="bold" stroke="#000" stroke-width="0.28" >f</text>
<defs><clipPath id="cf"><rect x="506.8" y="236.6" width="170.1" height="142.2"/></clipPath><filter id="nz" x="0" y="0" width="1" height="1"><feTurbulence type="fractalNoise" baseFrequency="0.42" numOctaves="2" seed="3" result="t"/><feColorMatrix type="matrix" values="0 0 0 0 0  0 0 0 0 0  0 0 0 0 0  3.0 0 0 0 -1.5"/><feGaussianBlur stdDeviation="0.45"/></filter><filter id="nzl" x="0" y="0" width="1" height="1"><feTurbulence type="fractalNoise" baseFrequency="0.42" numOctaves="2" seed="3" result="t"/><feColorMatrix type="matrix" values="0 0 0 0 1  0 0 0 0 1  0 0 0 0 1  -3.0 0 0 0 1.5"/><feGaussianBlur stdDeviation="0.45"/></filter><filter id="fb" x="-5%" y="-5%" width="110%" height="110%"><feGaussianBlur stdDeviation="0.8"/></filter><filter id="gb2f" x="-50%" y="-50%" width="200%" height="200%"><feGaussianBlur stdDeviation="8"/></filter></defs>
<g clip-path="url(#cf)">
<rect x="506.8" y="236.6" width="170.1" height="142.2" fill="#bcbcbc" stroke="none" stroke-width="1" />
<g filter="url(#gb2f)">
<ellipse cx="655" cy="262" rx="30" ry="30" fill="#777" opacity="0.35"/>
<ellipse cx="560" cy="268" rx="40" ry="10" fill="#888" opacity="0.25"/>
</g>
<g filter="url(#fb)">
<path d="M505,279 C508.6,277.85 511.3,276.81 518.5,274.7 C525.7,272.59 526,272.43 532,271.1 C538,269.77 536.2,270.18 541,269.7 C545.8,269.22 545.2,269.17 550,269.3 C554.8,269.43 553.93,269.24 559,270.2 C564.07,271.16 563.93,271.46 569,272.9 C574.07,274.34 573.2,274.4 578,275.6 C582.8,276.8 582.2,276.92 587,277.4 C591.8,277.88 590.72,277.88 596,277.4 C601.28,276.92 602,276.56 606.8,275.6 C611.6,274.64 612.08,274.28 614,273.8" stroke="#404040" stroke-width="5" fill="none" opacity="0.76" stroke-linecap="round" stroke-linejoin="round"/>
<path d="M505,279 C508.6,277.85 511.3,276.81 518.5,274.7 C525.7,272.59 526,272.43 532,271.1 C538,269.77 536.2,270.18 541,269.7 C545.8,269.22 545.2,269.17 550,269.3 C554.8,269.43 553.93,269.24 559,270.2 C564.07,271.16 563.93,271.46 569,272.9 C574.07,274.34 573.2,274.4 578,275.6 C582.8,276.8 582.2,276.92 587,277.4 C591.8,277.88 590.72,277.88 596,277.4 C601.28,276.92 602,276.56 606.8,275.6 C611.6,274.64 612.08,274.28 614,273.8" stroke="#8a8a8a" stroke-width="2.1" fill="none" opacity="0.47" stroke-linecap="round" stroke-linejoin="round"/>
<path d="M505,279 C508.6,277.85 511.3,276.81 518.5,274.7 C525.7,272.59 526,272.43 532,271.1 C538,269.77 536.2,270.18 541,269.7 C545.8,269.22 545.2,269.17 550,269.3 C554.8,269.43 553.93,269.24 559,270.2 C564.07,271.16 563.93,271.46 569,272.9 C574.07,274.34 573.2,274.4 578,275.6 C582.8,276.8 582.2,276.92 587,277.4 C591.8,277.88 590.72,277.88 596,277.4 C601.28,276.92 602,276.56 606.8,275.6 C611.6,274.64 612.08,274.28 614,273.8" stroke="#555" stroke-width="0.6" fill="none" opacity="0.47" stroke-dasharray="2,1.5"/>
<path d="M567,250 C569.93,251.07 572.67,252.21 578,254 C583.33,255.79 582.2,255.5 587,256.7 C591.8,257.9 591.2,257.78 596,258.5 C600.8,259.22 600.2,258.68 605,259.4 C609.8,260.12 608.93,259.97 614,261.2 C619.07,262.43 618.83,261.39 624,264 C629.17,266.61 630.89,269.13 633.4,271" stroke="#404040" stroke-width="4.5" fill="none" opacity="0.6" stroke-linecap="round" stroke-linejoin="round"/>
<path d="M567,250 C569.93,251.07 572.67,252.21 578,254 C583.33,255.79 582.2,255.5 587,256.7 C591.8,257.9 591.2,257.78 596,258.5 C600.8,259.22 600.2,258.68 605,259.4 C609.8,260.12 608.93,259.97 614,261.2 C619.07,262.43 618.83,261.39 624,264 C629.17,266.61 630.89,269.13 633.4,271" stroke="#8a8a8a" stroke-width="1.89" fill="none" opacity="0.38" stroke-linecap="round" stroke-linejoin="round"/>
<path d="M567,250 C569.93,251.07 572.67,252.21 578,254 C583.33,255.79 582.2,255.5 587,256.7 C591.8,257.9 591.2,257.78 596,258.5 C600.8,259.22 600.2,258.68 605,259.4 C609.8,260.12 608.93,259.97 614,261.2 C619.07,262.43 618.83,261.39 624,264 C629.17,266.61 630.89,269.13 633.4,271" stroke="#555" stroke-width="0.6" fill="none" opacity="0.38" stroke-dasharray="2,1.5"/>
<path d="M549,246 C548.07,247.41 548.11,247.97 545.5,251.3 C542.89,254.63 542.8,254.66 539.2,258.5 C535.6,262.34 536.32,261.62 532,265.7 C527.68,269.78 527.8,269.72 523,273.8 C518.2,277.88 518.53,277.48 514,281 C509.47,284.52 508.13,285.4 506,287" stroke="#404040" stroke-width="4.2" fill="none" opacity="0.64" stroke-linecap="round" stroke-linejoin="round"/>
<path d="M549,246 C548.07,247.41 548.11,247.97 545.5,251.3 C542.89,254.63 542.8,254.66 539.2,258.5 C535.6,262.34 536.32,261.62 532,265.7 C527.68,269.78 527.8,269.72 523,273.8 C518.2,277.88 518.53,277.48 514,281 C509.47,284.52 508.13,285.4 506,287" stroke="#8a8a8a" stroke-width="1.76" fill="none" opacity="0.4" stroke-linecap="round" stroke-linejoin="round"/>
<path d="M549,246 C548.07,247.41 548.11,247.97 545.5,251.3 C542.89,254.63 542.8,254.66 539.2,258.5 C535.6,262.34 536.32,261.62 532,265.7 C527.68,269.78 527.8,269.72 523,273.8 C518.2,277.88 518.53,277.48 514,281 C509.47,284.52 508.13,285.4 506,287" stroke="#555" stroke-width="0.6" fill="none" opacity="0.4" stroke-dasharray="2,1.5"/>
<path d="M505,250 C507.4,251.07 509.2,251.97 514,254 C518.8,256.03 518.2,255.68 523,257.6 C527.8,259.52 527.68,259.76 532,261.2 C536.32,262.64 534.4,261.45 539.2,263 C544,264.55 547.12,265.93 550,267" stroke="#404040" stroke-width="4" fill="none" opacity="0.52" stroke-linecap="round" stroke-linejoin="round"/>
<path d="M505,250 C507.4,251.07 509.2,251.97 514,254 C518.8,256.03 518.2,255.68 523,257.6 C527.8,259.52 527.68,259.76 532,261.2 C536.32,262.64 534.4,261.45 539.2,263 C544,264.55 547.12,265.93 550,267" stroke="#8a8a8a" stroke-width="1.68" fill="none" opacity="0.33" stroke-linecap="round" stroke-linejoin="round"/>
<path d="M505,250 C507.4,251.07 509.2,251.97 514,254 C518.8,256.03 518.2,255.68 523,257.6 C527.8,259.52 527.68,259.76 532,261.2 C536.32,262.64 534.4,261.45 539.2,263 C544,264.55 547.12,265.93 550,267" stroke="#555" stroke-width="0.6" fill="none" opacity="0.33" stroke-dasharray="2,1.5"/>
<path d="M578,272 C575.6,274.88 573.8,277.04 569,282.8 C564.2,288.56 565.07,289.01 560,293.6 C554.93,298.19 555.07,296.69 550,300 C544.93,303.31 546.33,302.93 541,306 C535.67,309.07 535.6,308.3 530,311.5 C524.4,314.7 523.25,313.6 520,318 C516.75,322.4 517.91,322.93 517.8,328 C517.69,333.07 517.95,332.73 519.6,337 C521.25,341.27 520.61,341.07 524,344 C527.39,346.93 527.63,346.67 532.3,348 C536.97,349.33 537.05,349.53 541.5,349 C545.95,348.47 545.53,348.51 549,346 C552.47,343.49 551.57,343.6 554.5,339.6 C557.43,335.6 557.2,335.69 560,331 C562.8,326.31 562.07,326.8 565,322 C567.93,317.2 568.49,318.87 571,313 C573.51,307.13 573.01,307.2 574.4,300 C575.79,292.8 575.24,292.93 576.2,286 C577.16,279.07 577.52,277.2 578,274" stroke="#404040" stroke-width="4.5" fill="none" opacity="0.68" stroke-linecap="round" stroke-linejoin="round"/>
<path d="M578,272 C575.6,274.88 573.8,277.04 569,282.8 C564.2,288.56 565.07,289.01 560,293.6 C554.93,298.19 555.07,296.69 550,300 C544.93,303.31 546.33,302.93 541,306 C535.67,309.07 535.6,308.3 530,311.5 C524.4,314.7 523.25,313.6 520,318 C516.75,322.4 517.91,322.93 517.8,328 C517.69,333.07 517.95,332.73 519.6,337 C521.25,341.27 520.61,341.07 524,344 C527.39,346.93 527.63,346.67 532.3,348 C536.97,349.33 537.05,349.53 541.5,349 C545.95,348.47 545.53,348.51 549,346 C552.47,343.49 551.57,343.6 554.5,339.6 C557.43,335.6 557.2,335.69 560,331 C562.8,326.31 562.07,326.8 565,322 C567.93,317.2 568.49,318.87 571,313 C573.51,307.13 573.01,307.2 574.4,300 C575.79,292.8 575.24,292.93 576.2,286 C577.16,279.07 577.52,277.2 578,274" stroke="#8a8a8a" stroke-width="1.89" fill="none" opacity="0.42" stroke-linecap="round" stroke-linejoin="round"/>
<path d="M578,272 C575.6,274.88 573.8,277.04 569,282.8 C564.2,288.56 565.07,289.01 560,293.6 C554.93,298.19 555.07,296.69 550,300 C544.93,303.31 546.33,302.93 541,306 C535.67,309.07 535.6,308.3 530,311.5 C524.4,314.7 523.25,313.6 520,318 C516.75,322.4 517.91,322.93 517.8,328 C517.69,333.07 517.95,332.73 519.6,337 C521.25,341.27 520.61,341.07 524,344 C527.39,346.93 527.63,346.67 532.3,348 C536.97,349.33 537.05,349.53 541.5,349 C545.95,348.47 545.53,348.51 549,346 C552.47,343.49 551.57,343.6 554.5,339.6 C557.43,335.6 557.2,335.69 560,331 C562.8,326.31 562.07,326.8 565,322 C567.93,317.2 568.49,318.87 571,313 C573.51,307.13 573.01,307.2 574.4,300 C575.79,292.8 575.24,292.93 576.2,286 C577.16,279.07 577.52,277.2 578,274" stroke="#555" stroke-width="0.6" fill="none" opacity="0.42" stroke-dasharray="2,1.5"/>
<path d="M506.8,286.4 C507.04,289.76 507.22,292.71 507.7,299 C508.18,305.29 507.37,304.75 508.6,310 C509.83,315.25 510.35,313.95 512.3,318.7 C514.25,323.45 514.19,322.92 515.9,327.8 C517.61,332.68 517.23,332.87 518.7,337 C520.17,341.13 520.68,341.62 521.4,343.3" stroke="#404040" stroke-width="3.8" fill="none" opacity="0.56" stroke-linecap="round" stroke-linejoin="round"/>
<path d="M506.8,286.4 C507.04,289.76 507.22,292.71 507.7,299 C508.18,305.29 507.37,304.75 508.6,310 C509.83,315.25 510.35,313.95 512.3,318.7 C514.25,323.45 514.19,322.92 515.9,327.8 C517.61,332.68 517.23,332.87 518.7,337 C520.17,341.13 520.68,341.62 521.4,343.3" stroke="#8a8a8a" stroke-width="1.6" fill="none" opacity="0.35" stroke-linecap="round" stroke-linejoin="round"/>
<path d="M506.8,286.4 C507.04,289.76 507.22,292.71 507.7,299 C508.18,305.29 507.37,304.75 508.6,310 C509.83,315.25 510.35,313.95 512.3,318.7 C514.25,323.45 514.19,322.92 515.9,327.8 C517.61,332.68 517.23,332.87 518.7,337 C520.17,341.13 520.68,341.62 521.4,343.3" stroke="#555" stroke-width="0.6" fill="none" opacity="0.35" stroke-dasharray="2,1.5"/>
<path d="M597,277 C596.6,280.47 596.57,283.07 595.5,290 C594.43,296.93 595,296.6 593,303 C591,309.4 590.53,308.4 588,314 C585.47,319.6 585.37,318.93 583.5,324 C581.63,329.07 581.67,330.6 581,333" stroke="#404040" stroke-width="3.8" fill="none" opacity="0.52" stroke-linecap="round" stroke-linejoin="round"/>
<path d="M597,277 C596.6,280.47 596.57,283.07 595.5,290 C594.43,296.93 595,296.6 593,303 C591,309.4 590.53,308.4 588,314 C585.47,319.6 585.37,318.93 583.5,324 C581.63,329.07 581.67,330.6 581,333" stroke="#8a8a8a" stroke-width="1.6" fill="none" opacity="0.33" stroke-linecap="round" stroke-linejoin="round"/>
<path d="M597,277 C596.6,280.47 596.57,283.07 595.5,290 C594.43,296.93 595,296.6 593,303 C591,309.4 590.53,308.4 588,314 C585.47,319.6 585.37,318.93 583.5,324 C581.63,329.07 581.67,330.6 581,333" stroke="#555" stroke-width="0.6" fill="none" opacity="0.33" stroke-dasharray="2,1.5"/>
<path d="M610.4,263 C609.92,267.8 609.56,271.4 608.6,281 C607.64,290.6 607.36,290.2 606.8,299 C606.24,307.8 606.82,307.07 606.5,314 C606.18,320.93 605.84,322.07 605.6,325" stroke="#404040" stroke-width="3.8" fill="none" opacity="0.52" stroke-linecap="round" stroke-linejoin="round"/>
<path d="M610.4,263 C609.92,267.8 609.56,271.4 608.6,281 C607.64,290.6 607.36,290.2 606.8,299 C606.24,307.8 606.82,307.07 606.5,314 C606.18,320.93 605.84,322.07 605.6,325" stroke="#8a8a8a" stroke-width="1.6" fill="none" opacity="0.33" stroke-linecap="round" stroke-linejoin="round"/>
<path d="M610.4,263 C609.92,267.8 609.56,271.4 608.6,281 C607.64,290.6 607.36,290.2 606.8,299 C606.24,307.8 606.82,307.07 606.5,314 C606.18,320.93 605.84,322.07 605.6,325" stroke="#555" stroke-width="0.6" fill="none" opacity="0.33" stroke-dasharray="2,1.5"/>
<path d="M603,235 C606.2,239.19 609.35,243.07 615,250.7 C620.65,258.33 619.29,258.19 624.2,263.6 C629.11,269.01 628.49,266.84 633.4,271 C638.31,275.16 637.69,274.8 642.6,279.2 C647.51,283.6 646.89,283.07 651.8,287.5 C656.71,291.93 656.09,291.88 661,295.8 C665.91,299.72 665.4,298.68 670.2,302.2 C675,305.72 676.65,307.19 679,309" stroke="#404040" stroke-width="6.5" fill="none" opacity="0.8" stroke-linecap="round" stroke-linejoin="round"/>
<path d="M603,235 C606.2,239.19 609.35,243.07 615,250.7 C620.65,258.33 619.29,258.19 624.2,263.6 C629.11,269.01 628.49,266.84 633.4,271 C638.31,275.16 637.69,274.8 642.6,279.2 C647.51,283.6 646.89,283.07 651.8,287.5 C656.71,291.93 656.09,291.88 661,295.8 C665.91,299.72 665.4,298.68 670.2,302.2 C675,305.72 676.65,307.19 679,309" stroke="#8a8a8a" stroke-width="2.73" fill="none" opacity="0.5" stroke-linecap="round" stroke-linejoin="round"/>
<path d="M603,235 C606.2,239.19 609.35,243.07 615,250.7 C620.65,258.33 619.29,258.19 624.2,263.6 C629.11,269.01 628.49,266.84 633.4,271 C638.31,275.16 637.69,274.8 642.6,279.2 C647.51,283.6 646.89,283.07 651.8,287.5 C656.71,291.93 656.09,291.88 661,295.8 C665.91,299.72 665.4,298.68 670.2,302.2 C675,305.72 676.65,307.19 679,309" stroke="#555" stroke-width="0.6" fill="none" opacity="0.5" stroke-dasharray="2,1.5"/>
<path d="M642,235 C642.91,235.75 642.79,235.56 645.4,237.8 C648.01,240.04 648.12,239.45 651.8,243.4 C655.48,247.35 655.28,247.69 659.2,252.6 C663.12,257.51 662.34,257.64 666.5,261.8 C670.66,265.96 671.47,265.75 674.8,268.2 C678.13,270.65 677.88,270.25 679,271" stroke="#404040" stroke-width="5.5" fill="none" opacity="0.68" stroke-linecap="round" stroke-linejoin="round"/>
<path d="M642,235 C642.91,235.75 642.79,235.56 645.4,237.8 C648.01,240.04 648.12,239.45 651.8,243.4 C655.48,247.35 655.28,247.69 659.2,252.6 C663.12,257.51 662.34,257.64 666.5,261.8 C670.66,265.96 671.47,265.75 674.8,268.2 C678.13,270.65 677.88,270.25 679,271" stroke="#8a8a8a" stroke-width="2.31" fill="none" opacity="0.42" stroke-linecap="round" stroke-linejoin="round"/>
<path d="M642,235 C642.91,235.75 642.79,235.56 645.4,237.8 C648.01,240.04 648.12,239.45 651.8,243.4 C655.48,247.35 655.28,247.69 659.2,252.6 C663.12,257.51 662.34,257.64 666.5,261.8 C670.66,265.96 671.47,265.75 674.8,268.2 C678.13,270.65 677.88,270.25 679,271" stroke="#555" stroke-width="0.6" fill="none" opacity="0.42" stroke-dasharray="2,1.5"/>
<path d="M642.6,272.8 C645.05,272.05 646.89,271.71 651.8,270 C656.71,268.29 656.09,268.11 661,266.4 C665.91,264.69 665.4,264.83 670.2,263.6 C675,262.37 676.65,262.28 679,261.8" stroke="#404040" stroke-width="3.2" fill="none" opacity="0.48" stroke-linecap="round" stroke-linejoin="round"/>
<path d="M642.6,272.8 C645.05,272.05 646.89,271.71 651.8,270 C656.71,268.29 656.09,268.11 661,266.4 C665.91,264.69 665.4,264.83 670.2,263.6 C675,262.37 676.65,262.28 679,261.8" stroke="#8a8a8a" stroke-width="1.34" fill="none" opacity="0.3" stroke-linecap="round" stroke-linejoin="round"/>
<path d="M642.6,272.8 C645.05,272.05 646.89,271.71 651.8,270 C656.71,268.29 656.09,268.11 661,266.4 C665.91,264.69 665.4,264.83 670.2,263.6 C675,262.37 676.65,262.28 679,261.8" stroke="#555" stroke-width="0.6" fill="none" opacity="0.3" stroke-dasharray="2,1.5"/>
<path d="M605.6,325 C603.17,327.45 600.87,329.32 596.5,334.2 C592.13,339.08 592.85,338.21 589.2,343.3 C585.55,348.39 586.21,348.45 582.8,353.3 C579.39,358.15 580.05,356.89 576.4,361.5 C572.75,366.11 572.75,366.2 569.1,370.6 C565.45,375 565.13,374.96 562.7,378 C560.27,381.04 560.72,380.93 560,382" stroke="#404040" stroke-width="5.5" fill="none" opacity="0.76" stroke-linecap="round" stroke-linejoin="round"/>
<path d="M605.6,325 C603.17,327.45 600.87,329.32 596.5,334.2 C592.13,339.08 592.85,338.21 589.2,343.3 C585.55,348.39 586.21,348.45 582.8,353.3 C579.39,358.15 580.05,356.89 576.4,361.5 C572.75,366.11 572.75,366.2 569.1,370.6 C565.45,375 565.13,374.96 562.7,378 C560.27,381.04 560.72,380.93 560,382" stroke="#8a8a8a" stroke-width="2.31" fill="none" opacity="0.47" stroke-linecap="round" stroke-linejoin="round"/>
<path d="M605.6,325 C603.17,327.45 600.87,329.32 596.5,334.2 C592.13,339.08 592.85,338.21 589.2,343.3 C585.55,348.39 586.21,348.45 582.8,353.3 C579.39,358.15 580.05,356.89 576.4,361.5 C572.75,366.11 572.75,366.2 569.1,370.6 C565.45,375 565.13,374.96 562.7,378 C560.27,381.04 560.72,380.93 560,382" stroke="#555" stroke-width="0.6" fill="none" opacity="0.47" stroke-dasharray="2,1.5"/>
<path d="M560,352.4 C562.43,353.36 564.25,354.29 569.1,356 C573.95,357.71 573.35,357.81 578.2,358.8 C583.05,359.79 582.42,359.22 587.3,359.7 C592.18,360.18 591.62,359.88 596.5,360.6 C601.38,361.32 600.75,361.17 605.6,362.4 C610.45,363.63 610.33,363.84 614.7,365.2 C619.07,366.56 620.05,366.89 622,367.5" stroke="#404040" stroke-width="3.8" fill="none" opacity="0.56" stroke-linecap="round" stroke-linejoin="round"/>
<path d="M560,352.4 C562.43,353.36 564.25,354.29 569.1,356 C573.95,357.71 573.35,357.81 578.2,358.8 C583.05,359.79 582.42,359.22 587.3,359.7 C592.18,360.18 591.62,359.88 596.5,360.6 C601.38,361.32 600.75,361.17 605.6,362.4 C610.45,363.63 610.33,363.84 614.7,365.2 C619.07,366.56 620.05,366.89 622,367.5" stroke="#8a8a8a" stroke-width="1.6" fill="none" opacity="0.35" stroke-linecap="round" stroke-linejoin="round"/>
<path d="M560,352.4 C562.43,353.36 564.25,354.29 569.1,356 C573.95,357.71 573.35,357.81 578.2,358.8 C583.05,359.79 582.42,359.22 587.3,359.7 C592.18,360.18 591.62,359.88 596.5,360.6 C601.38,361.32 600.75,361.17 605.6,362.4 C610.45,363.63 610.33,363.84 614.7,365.2 C619.07,366.56 620.05,366.89 622,367.5" stroke="#555" stroke-width="0.6" fill="none" opacity="0.35" stroke-dasharray="2,1.5"/>
<path d="M605.6,325 C608.03,326.95 609.74,330.27 614.7,332.3 C619.66,334.33 619.21,331.77 624.2,332.6 C629.19,333.43 628.49,333.69 633.4,335.4 C638.31,337.11 637.69,337.05 642.6,339 C647.51,340.95 646.89,340.73 651.8,342.7 C656.71,344.67 656.09,344.67 661,346.4 C665.91,348.13 665.4,347.97 670.2,349.2 C675,350.43 676.65,350.52 679,351" stroke="#404040" stroke-width="6.5" fill="none" opacity="0.56" stroke-linecap="round" stroke-linejoin="round"/>
<path d="M605.6,325 C608.03,326.95 609.74,330.27 614.7,332.3 C619.66,334.33 619.21,331.77 624.2,332.6 C629.19,333.43 628.49,333.69 633.4,335.4 C638.31,337.11 637.69,337.05 642.6,339 C647.51,340.95 646.89,340.73 651.8,342.7 C656.71,344.67 656.09,344.67 661,346.4 C665.91,348.13 665.4,347.97 670.2,349.2 C675,350.43 676.65,350.52 679,351" stroke="#8a8a8a" stroke-width="2.73" fill="none" opacity="0.35" stroke-linecap="round" stroke-linejoin="round"/>
<path d="M605.6,325 C608.03,326.95 609.74,330.27 614.7,332.3 C619.66,334.33 619.21,331.77 624.2,332.6 C629.19,333.43 628.49,333.69 633.4,335.4 C638.31,337.11 637.69,337.05 642.6,339 C647.51,340.95 646.89,340.73 651.8,342.7 C656.71,344.67 656.09,344.67 661,346.4 C665.91,348.13 665.4,347.97 670.2,349.2 C675,350.43 676.65,350.52 679,351" stroke="#555" stroke-width="0.6" fill="none" opacity="0.35" stroke-dasharray="2,1.5"/>
<path d="M679,346 C676.65,348.32 675,351.39 670.2,354.7 C665.4,358.01 665.91,356.93 661,358.4 C656.09,359.87 656.71,359.24 651.8,360.2 C646.89,361.16 648.73,360.77 642.6,362 C636.47,363.23 636.16,364.8 628.8,364.8 C621.44,364.8 618.68,362.75 615,362" stroke="#404040" stroke-width="3.5" fill="none" opacity="0.44" stroke-linecap="round" stroke-linejoin="round"/>
<path d="M679,346 C676.65,348.32 675,351.39 670.2,354.7 C665.4,358.01 665.91,356.93 661,358.4 C656.09,359.87 656.71,359.24 651.8,360.2 C646.89,361.16 648.73,360.77 642.6,362 C636.47,363.23 636.16,364.8 628.8,364.8 C621.44,364.8 618.68,362.75 615,362" stroke="#8a8a8a" stroke-width="1.47" fill="none" opacity="0.28" stroke-linecap="round" stroke-linejoin="round"/>
<path d="M679,346 C676.65,348.32 675,351.39 670.2,354.7 C665.4,358.01 665.91,356.93 661,358.4 C656.09,359.87 656.71,359.24 651.8,360.2 C646.89,361.16 648.73,360.77 642.6,362 C636.47,363.23 636.16,364.8 628.8,364.8 C621.44,364.8 618.68,362.75 615,362" stroke="#555" stroke-width="0.6" fill="none" opacity="0.28" stroke-dasharray="2,1.5"/>
<path d="M505,348.8 C508.65,349.76 511.42,350.96 518.7,352.4 C525.98,353.84 525.02,354.2 532.3,354.2 C539.58,354.2 538.69,353.84 546,352.4 C553.31,350.96 554.37,350.51 559.7,348.8 C565.03,347.09 564.32,346.75 566,346" stroke="#404040" stroke-width="5.5" fill="none" opacity="0.4" stroke-linecap="round" stroke-linejoin="round"/>
<path d="M505,348.8 C508.65,349.76 511.42,350.96 518.7,352.4 C525.98,353.84 525.02,354.2 532.3,354.2 C539.58,354.2 538.69,353.84 546,352.4 C553.31,350.96 554.37,350.51 559.7,348.8 C565.03,347.09 564.32,346.75 566,346" stroke="#8a8a8a" stroke-width="2.31" fill="none" opacity="0.25" stroke-linecap="round" stroke-linejoin="round"/>
<path d="M505,348.8 C508.65,349.76 511.42,350.96 518.7,352.4 C525.98,353.84 525.02,354.2 532.3,354.2 C539.58,354.2 538.69,353.84 546,352.4 C553.31,350.96 554.37,350.51 559.7,348.8 C565.03,347.09 564.32,346.75 566,346" stroke="#555" stroke-width="0.6" fill="none" opacity="0.25" stroke-dasharray="2,1.5"/>
<path d="M505,364 C507.4,364.8 509.73,364.6 514,367 C518.27,369.4 519.13,371.4 521,373" stroke="#404040" stroke-width="3.5" fill="none" opacity="0.44" stroke-linecap="round" stroke-linejoin="round"/>
<path d="M505,364 C507.4,364.8 509.73,364.6 514,367 C518.27,369.4 519.13,371.4 521,373" stroke="#8a8a8a" stroke-width="1.47" fill="none" opacity="0.28" stroke-linecap="round" stroke-linejoin="round"/>
<path d="M505,364 C507.4,364.8 509.73,364.6 514,367 C518.27,369.4 519.13,371.4 521,373" stroke="#555" stroke-width="0.6" fill="none" opacity="0.28" stroke-dasharray="2,1.5"/>
<path d="M567.2,238 C567.2,241.07 566.72,242.83 567.2,249.5 C567.68,256.17 567.32,257.48 569,263 C570.68,268.52 572.3,268.28 573.5,270.2" stroke="#404040" stroke-width="3.2" fill="none" opacity="0.48" stroke-linecap="round" stroke-linejoin="round"/>
<path d="M567.2,238 C567.2,241.07 566.72,242.83 567.2,249.5 C567.68,256.17 567.32,257.48 569,263 C570.68,268.52 572.3,268.28 573.5,270.2" stroke="#8a8a8a" stroke-width="1.34" fill="none" opacity="0.3" stroke-linecap="round" stroke-linejoin="round"/>
<path d="M567.2,238 C567.2,241.07 566.72,242.83 567.2,249.5 C567.68,256.17 567.32,257.48 569,263 C570.68,268.52 572.3,268.28 573.5,270.2" stroke="#555" stroke-width="0.6" fill="none" opacity="0.3" stroke-dasharray="2,1.5"/>
<path d="M615,243.4 C617.45,243.88 619.29,243.49 624.2,245.2 C629.11,246.91 630.95,248.57 633.4,249.8" stroke="#404040" stroke-width="3.2" fill="none" opacity="0.44" stroke-linecap="round" stroke-linejoin="round"/>
<path d="M615,243.4 C617.45,243.88 619.29,243.49 624.2,245.2 C629.11,246.91 630.95,248.57 633.4,249.8" stroke="#8a8a8a" stroke-width="1.34" fill="none" opacity="0.28" stroke-linecap="round" stroke-linejoin="round"/>
<path d="M615,243.4 C617.45,243.88 619.29,243.49 624.2,245.2 C629.11,246.91 630.95,248.57 633.4,249.8" stroke="#555" stroke-width="0.6" fill="none" opacity="0.28" stroke-dasharray="2,1.5"/>
<path d="M659.2,291.2 C656.75,293.17 654.91,294.65 650,298.6 C645.09,302.55 646.13,301.63 640.8,306 C635.47,310.37 635.55,311.27 630,315 C624.45,318.73 622.67,318.67 620,320" stroke="#404040" stroke-width="3" fill="none" opacity="0.36" stroke-linecap="round" stroke-linejoin="round"/>
<path d="M659.2,291.2 C656.75,293.17 654.91,294.65 650,298.6 C645.09,302.55 646.13,301.63 640.8,306 C635.47,310.37 635.55,311.27 630,315 C624.45,318.73 622.67,318.67 620,320" stroke="#8a8a8a" stroke-width="1.26" fill="none" opacity="0.23" stroke-linecap="round" stroke-linejoin="round"/>
<path d="M659.2,291.2 C656.75,293.17 654.91,294.65 650,298.6 C645.09,302.55 646.13,301.63 640.8,306 C635.47,310.37 635.55,311.27 630,315 C624.45,318.73 622.67,318.67 620,320" stroke="#555" stroke-width="0.6" fill="none" opacity="0.23" stroke-dasharray="2,1.5"/>
<path d="M668,303 C670.13,304.87 673.33,304.93 676,310 C678.67,315.07 677.47,318.8 678,322" stroke="#404040" stroke-width="4" fill="none" opacity="0.56" stroke-linecap="round" stroke-linejoin="round"/>
<path d="M668,303 C670.13,304.87 673.33,304.93 676,310 C678.67,315.07 677.47,318.8 678,322" stroke="#8a8a8a" stroke-width="1.68" fill="none" opacity="0.35" stroke-linecap="round" stroke-linejoin="round"/>
<path d="M668,303 C670.13,304.87 673.33,304.93 676,310 C678.67,315.07 677.47,318.8 678,322" stroke="#555" stroke-width="0.6" fill="none" opacity="0.35" stroke-dasharray="2,1.5"/>
<path d="M615,309.6 C617.45,308.85 621.75,307.55 624.2,306.8" stroke="#404040" stroke-width="3" fill="none" opacity="0.4" stroke-linecap="round" stroke-linejoin="round"/>
<path d="M615,309.6 C617.45,308.85 621.75,307.55 624.2,306.8" stroke="#8a8a8a" stroke-width="1.26" fill="none" opacity="0.25" stroke-linecap="round" stroke-linejoin="round"/>
<path d="M615,309.6 C617.45,308.85 621.75,307.55 624.2,306.8" stroke="#555" stroke-width="0.6" fill="none" opacity="0.25" stroke-dasharray="2,1.5"/>
<path d="M506,309 C507.6,309.8 509.07,309.87 512,312 C514.93,314.13 515.67,315.67 517,317" stroke="#404040" stroke-width="3" fill="none" opacity="0.4" stroke-linecap="round" stroke-linejoin="round"/>
<path d="M506,309 C507.6,309.8 509.07,309.87 512,312 C514.93,314.13 515.67,315.67 517,317" stroke="#8a8a8a" stroke-width="1.26" fill="none" opacity="0.25" stroke-linecap="round" stroke-linejoin="round"/>
<path d="M506,309 C507.6,309.8 509.07,309.87 512,312 C514.93,314.13 515.67,315.67 517,317" stroke="#555" stroke-width="0.6" fill="none" opacity="0.25" stroke-dasharray="2,1.5"/>
<path d="M591.9,305 C590.67,307.43 589.73,309.25 587.3,314.1 C584.87,318.95 584,320.77 582.8,323.2" stroke="#404040" stroke-width="3" fill="none" opacity="0.4" stroke-linecap="round" stroke-linejoin="round"/>
<path d="M591.9,305 C590.67,307.43 589.73,309.25 587.3,314.1 C584.87,318.95 584,320.77 582.8,323.2" stroke="#8a8a8a" stroke-width="1.26" fill="none" opacity="0.25" stroke-linecap="round" stroke-linejoin="round"/>
<path d="M591.9,305 C590.67,307.43 589.73,309.25 587.3,314.1 C584.87,318.95 584,320.77 582.8,323.2" stroke="#555" stroke-width="0.6" fill="none" opacity="0.25" stroke-dasharray="2,1.5"/>
<path d="M560,330.5 C561.23,328.55 561.67,327.57 564.6,323.2 C567.53,318.83 567.37,318.95 571,314.1 C574.63,309.25 576.28,307.43 578.2,305" stroke="#404040" stroke-width="3" fill="none" opacity="0.4" stroke-linecap="round" stroke-linejoin="round"/>
<path d="M560,330.5 C561.23,328.55 561.67,327.57 564.6,323.2 C567.53,318.83 567.37,318.95 571,314.1 C574.63,309.25 576.28,307.43 578.2,305" stroke="#8a8a8a" stroke-width="1.26" fill="none" opacity="0.25" stroke-linecap="round" stroke-linejoin="round"/>
<path d="M560,330.5 C561.23,328.55 561.67,327.57 564.6,323.2 C567.53,318.83 567.37,318.95 571,314.1 C574.63,309.25 576.28,307.43 578.2,305" stroke="#555" stroke-width="0.6" fill="none" opacity="0.25" stroke-dasharray="2,1.5"/>
<path d="M535,240.8 C540.07,245.12 543.87,250.55 554,257 C564.13,263.45 563.67,259.93 573,265 C582.33,270.07 584.73,273.07 589,276" stroke="#404040" stroke-width="3.5" fill="none" opacity="0.44" stroke-linecap="round" stroke-linejoin="round"/>
<path d="M535,240.8 C540.07,245.12 543.87,250.55 554,257 C564.13,263.45 563.67,259.93 573,265 C582.33,270.07 584.73,273.07 589,276" stroke="#8a8a8a" stroke-width="1.47" fill="none" opacity="0.28" stroke-linecap="round" stroke-linejoin="round"/>
<path d="M535,240.8 C540.07,245.12 543.87,250.55 554,257 C564.13,263.45 563.67,259.93 573,265 C582.33,270.07 584.73,273.07 589,276" stroke="#555" stroke-width="0.6" fill="none" opacity="0.28" stroke-dasharray="2,1.5"/>
<path d="M578.3,267.8 C575.42,272.12 574.7,275.36 567.5,284 C560.3,292.64 560.66,290.84 551.3,300.2 C541.94,309.56 541.76,309.02 532.4,319.1 C523.04,329.18 522.68,329.36 516.2,338 C509.72,346.64 510.26,347.9 508.1,351.5" stroke="#404040" stroke-width="4" fill="none" opacity="0.48" stroke-linecap="round" stroke-linejoin="round"/>
<path d="M578.3,267.8 C575.42,272.12 574.7,275.36 567.5,284 C560.3,292.64 560.66,290.84 551.3,300.2 C541.94,309.56 541.76,309.02 532.4,319.1 C523.04,329.18 522.68,329.36 516.2,338 C509.72,346.64 510.26,347.9 508.1,351.5" stroke="#8a8a8a" stroke-width="1.68" fill="none" opacity="0.3" stroke-linecap="round" stroke-linejoin="round"/>
<path d="M578.3,267.8 C575.42,272.12 574.7,275.36 567.5,284 C560.3,292.64 560.66,290.84 551.3,300.2 C541.94,309.56 541.76,309.02 532.4,319.1 C523.04,329.18 522.68,329.36 516.2,338 C509.72,346.64 510.26,347.9 508.1,351.5" stroke="#555" stroke-width="0.6" fill="none" opacity="0.3" stroke-dasharray="2,1.5"/>
<path d="M567.5,275.7 C566.78,282.23 565.87,287.91 564.8,300.2 C563.73,312.49 563.85,316.04 563.5,321.8" stroke="#404040" stroke-width="3" fill="none" opacity="0.36" stroke-linecap="round" stroke-linejoin="round"/>
<path d="M567.5,275.7 C566.78,282.23 565.87,287.91 564.8,300.2 C563.73,312.49 563.85,316.04 563.5,321.8" stroke="#8a8a8a" stroke-width="1.26" fill="none" opacity="0.23" stroke-linecap="round" stroke-linejoin="round"/>
<path d="M567.5,275.7 C566.78,282.23 565.87,287.91 564.8,300.2 C563.73,312.49 563.85,316.04 563.5,321.8" stroke="#555" stroke-width="0.6" fill="none" opacity="0.23" stroke-dasharray="2,1.5"/>
<path d="M585,236 C589,238.13 592.8,240.27 600,244 C607.2,247.73 605.33,246.8 612,250 C618.67,253.2 621.53,254.4 625,256" stroke="#404040" stroke-width="3.5" fill="none" opacity="0.4" stroke-linecap="round" stroke-linejoin="round"/>
<path d="M585,236 C589,238.13 592.8,240.27 600,244 C607.2,247.73 605.33,246.8 612,250 C618.67,253.2 621.53,254.4 625,256" stroke="#8a8a8a" stroke-width="1.47" fill="none" opacity="0.25" stroke-linecap="round" stroke-linejoin="round"/>
<path d="M585,236 C589,238.13 592.8,240.27 600,244 C607.2,247.73 605.33,246.8 612,250 C618.67,253.2 621.53,254.4 625,256" stroke="#555" stroke-width="0.6" fill="none" opacity="0.25" stroke-dasharray="2,1.5"/>
<path d="M625,300 C629,303.2 632,307.2 640,312 C648,316.8 647,315.33 655,318 C663,320.67 663.6,318.8 670,322 C676.4,325.2 676.6,327.87 679,330" stroke="#404040" stroke-width="3" fill="none" opacity="0.32" stroke-linecap="round" stroke-linejoin="round"/>
<path d="M625,300 C629,303.2 632,307.2 640,312 C648,316.8 647,315.33 655,318 C663,320.67 663.6,318.8 670,322 C676.4,325.2 676.6,327.87 679,330" stroke="#8a8a8a" stroke-width="1.26" fill="none" opacity="0.2" stroke-linecap="round" stroke-linejoin="round"/>
<path d="M625,300 C629,303.2 632,307.2 640,312 C648,316.8 647,315.33 655,318 C663,320.67 663.6,318.8 670,322 C676.4,325.2 676.6,327.87 679,330" stroke="#555" stroke-width="0.6" fill="none" opacity="0.2" stroke-dasharray="2,1.5"/>
<path d="M520,236 C522.67,238.67 524.67,241.73 530,246 C535.33,250.27 537.33,250.4 540,252" stroke="#404040" stroke-width="3" fill="none" opacity="0.4" stroke-linecap="round" stroke-linejoin="round"/>
<path d="M520,236 C522.67,238.67 524.67,241.73 530,246 C535.33,250.27 537.33,250.4 540,252" stroke="#8a8a8a" stroke-width="1.26" fill="none" opacity="0.25" stroke-linecap="round" stroke-linejoin="round"/>
<path d="M520,236 C522.67,238.67 524.67,241.73 530,246 C535.33,250.27 537.33,250.4 540,252" stroke="#555" stroke-width="0.6" fill="none" opacity="0.25" stroke-dasharray="2,1.5"/>
</g>
<rect x="506.8" y="236.6" width="170.1" height="142.2" fill="#000" stroke="none" stroke-width="1" filter="url(#nz)" opacity="0.22"/>
<rect x="506.8" y="236.6" width="170.1" height="142.2" fill="#fff" stroke="none" stroke-width="1" filter="url(#nzl)" opacity="0.26"/>
</g>
<text x="509.0" y="247.0" font-size="9.95" fill="#111" font-weight="bold">aggregated A<tspan font-weight="normal" fill="#333">&#946; 1&#8211;42</tspan></text>
<text x="647" y="369.1" font-size="9.8" text-anchor="middle" fill="#000" font-weight="bold" stroke="#000" stroke-width="0.28" >100 nm</text>
<rect x="629.2" y="372.2" width="39.4" height="1.7" fill="#111" stroke="none" stroke-width="1" />
<text x="11.7" y="427.8" font-size="16.6" text-anchor="start" fill="#000" font-weight="bold" stroke="#000" stroke-width="0.28" >g</text>
<line x1="36.8" y1="432" x2="36.8" y2="594.7" stroke="#000" stroke-width="1.6" />
<text x="0" y="0" font-size="12.5" text-anchor="middle" transform="translate(16.7,511.3) rotate(-90) translate(0,4.5)"><tspan fill="#86c05c" stroke="#86c05c" stroke-width="0.28">488-A&#946; 1-42</tspan><tspan fill="#2e3892" stroke="#2e3892" stroke-width="0.28">/MAP-2</tspan></text>
<defs><filter id="gb" x="-20%" y="-20%" width="140%" height="140%"><feTurbulence type="turbulence" baseFrequency="0.22" numOctaves="2" seed="7" result="tb"/><feDisplacementMap in="SourceGraphic" in2="tb" scale="3.0" xChannelSelector="R" yChannelSelector="G" result="dm"/><feGaussianBlur in="dm" stdDeviation="0.45"/></filter><filter id="gb2" x="-50%" y="-50%" width="200%" height="200%"><feGaussianBlur stdDeviation="2.0"/></filter><clipPath id="cg1"><rect x="41.6" y="432.6" width="175.0" height="78.9"/></clipPath><clipPath id="cg2"><rect x="41.6" y="516.4" width="175.0" height="77.9"/></clipPath></defs>
<g clip-path="url(#cg1)">
<rect x="41.6" y="432.6" width="175" height="78.9" fill="#0d0e12" stroke="none" stroke-width="1" />
<g filter="url(#gb2)">
<path d="M188,431 C195,437 203,443 216,450" stroke="#4a4ad0" stroke-width="3.2" fill="none" opacity="0.85"/>
<path d="M200,470 C206,482 210,495 212,512" stroke="#23237a" stroke-width="5" fill="none" opacity="0.6"/>
<path d="M150,432 C165,445 175,452 185,470" stroke="#161640" stroke-width="6" fill="none" opacity="0.5"/>
</g>
<g filter="url(#gb)">
<path d="M49.9,454.3 C50.86,454.03 51.33,452.8 53.1,453.4 C54.87,454 54.42,454.26 55.8,456.3 C57.18,458.34 56.53,457.83 57.7,460.2 C58.87,462.57 58.32,461.83 59.7,464.2 C61.08,466.57 60.71,466.15 62.3,468.1 C63.89,470.05 63.62,468.72 65,470.7 C66.38,472.68 66.12,471.94 66.9,474.7 C67.68,477.46 67.99,476.75 67.6,479.9 C67.21,483.05 67.37,483.43 65.6,485.2 C63.83,486.97 63.65,486.58 61.7,485.8 C59.75,485.02 60.48,485.15 59.1,482.6 C57.72,480.05 58.3,480.06 57.1,477.3 C55.9,474.54 55.31,475.77 55.1,473.4 C54.89,471.03 56.79,471.38 56.4,469.4 C56.01,467.42 55.57,467.97 53.8,466.8 C52.03,465.63 51.88,467.09 50.5,465.5 C49.12,463.91 49.59,462.7 49.2,461.5 Z" stroke="#86de66" stroke-width="0.7" fill="#6ad24c" />
<path d="M82,498.8 C82.81,497.81 82.33,496.64 84.7,495.5 C87.07,494.36 87.14,494.4 89.9,495 C92.66,495.6 91.53,496 93.9,497.5 C96.27,499 95.43,498.95 97.8,500 C100.17,501.05 99.43,501.45 101.8,501 C104.17,500.55 103.36,500.3 105.7,498.5 C108.04,496.7 106.84,496.8 109.6,495 C112.36,493.2 112.14,493.4 114.9,492.5 C117.66,491.6 116.04,491.25 118.8,492 C121.56,492.75 120.62,493.65 124.1,495 C127.58,496.35 126.05,495.96 130.4,496.5 C134.75,497.04 134.52,496.29 138.6,496.8 C142.68,497.31 141.72,497 144,498.2 C146.28,499.4 145.9,499.12 146.2,500.8 C146.5,502.48 147.28,502.54 145,503.8 C142.72,505.06 142.17,504.46 138.6,505 C135.03,505.54 136.37,505.24 133.1,505.6 C129.83,505.96 130.4,505.63 127.7,506.2 C125,506.77 126.77,507.26 124.1,507.5 C121.43,507.74 121.95,507.39 118.8,507 C115.65,506.61 116.75,506.62 113.6,506.2 C110.45,505.78 111.45,505.78 108.3,505.6 C105.15,505.42 106.25,505.78 103.1,505.6 C99.95,505.42 100.95,505.33 97.8,505 C94.65,504.67 95.36,503.96 92.6,504.5 C89.84,505.04 90.97,506.11 88.6,506.8 C86.23,507.49 86.68,507.76 84.7,506.8 C82.72,505.84 82.81,504.56 82,503.6 Z" stroke="#86de66" stroke-width="0.7" fill="#6ad24c" />
<path d="M53.1,434.6 C54.3,434.39 54.73,433.12 57.1,433.9 C59.47,434.68 58.24,435.22 61,437.2 C63.76,439.18 62.76,439.9 66.3,440.5 C69.84,441.1 68.87,438.42 72.8,439.2 C76.73,439.98 77.03,440.34 79.4,443.1 C81.77,445.86 81.09,446.63 80.7,448.4 C80.31,450.17 80.05,450.17 78.1,449 C76.15,447.83 77.74,446.27 74.2,444.5 C70.66,442.73 70.65,444.69 66.3,443.1 C61.95,441.51 63.24,440.97 59.7,439.2 C56.16,437.43 56.06,437.8 54.5,437.2 Z" stroke="#86de66" stroke-width="0.7" fill="#6ad24c" />
<path d="M149.4,461.2 C150.84,460.87 152.16,459.29 154.2,460.1 C156.24,460.91 155.81,461.32 156.2,463.9 C156.59,466.48 156.7,467.05 155.5,468.7 C154.3,470.35 153.91,470 152.2,469.4 C150.49,468.8 150.52,467.51 149.8,466.7 Z" stroke="#86de66" stroke-width="0.7" fill="#6ad24c" />
<path d="M158.9,463.3 C160.55,463.48 161.55,463.09 164.4,463.9 C167.25,464.71 166.57,463.96 168.4,466 C170.23,468.04 170.5,467.64 170.5,470.7 C170.5,473.76 167.8,473.35 168.4,476.2 C169,479.05 169.83,478.37 172.5,480.2 C175.17,482.03 175.47,482.69 177.3,482.3 C179.13,481.91 177.19,480.73 178.6,478.9 C180.01,477.07 179.33,476.83 182,476.2 C184.67,475.57 184.86,475.6 187.5,476.8 C190.14,478 190.41,477.95 190.8,480.2 C191.19,482.45 190.63,482.65 188.8,484.3 C186.97,485.95 186.74,484.89 184.7,485.7 C182.66,486.51 183.62,487 182,487 C180.38,487 180.71,485.7 179.3,485.7 C177.89,485.7 178.92,486.82 177.3,487 C175.68,487.18 176.15,487.32 173.9,486.3 C171.65,485.28 172.26,485.01 169.8,483.6 C167.34,482.19 167.32,483.82 165.7,481.6 C164.08,479.38 165.81,479.05 164.4,476.2 C162.99,473.35 162.44,474.56 161,472.1 C159.56,469.64 160.02,469.23 159.6,468 Z" stroke="#86de66" stroke-width="0.7" fill="#6ad24c" />
<path d="M176.6,487 C178.22,486.79 179.57,485.49 182,486.3 C184.43,487.11 182.66,488.05 184.7,489.7 C186.74,491.35 186.34,490.99 188.8,491.8 C191.26,492.61 191.28,490.99 192.9,492.4 C194.52,493.81 193.99,493.62 194.2,496.5 C194.41,499.38 193.39,499.15 193.6,502 C193.81,504.85 195.53,504.8 194.9,506 C194.27,507.2 193.54,506.6 191.5,506 C189.46,505.4 190.14,505.62 188.1,504 C186.06,502.38 186.92,502.43 184.7,500.6 C182.48,498.77 182.92,499.52 180.7,497.9 C178.48,496.28 178.74,497.24 177.3,495.2 C175.86,493.16 176.32,492.33 175.9,491.1 Z" stroke="#86de66" stroke-width="0.7" fill="#6ad24c" />
<path d="M175.9,448.3 C176.71,448.51 176.77,447.35 178.6,449 C180.43,450.65 179.75,451.76 182,453.8 C184.25,455.84 183.25,454.78 186.1,455.8 C188.95,456.82 189.46,455.79 191.5,457.2 C193.54,458.61 193.5,458.49 192.9,460.5 C192.3,462.51 191.33,462.67 189.5,463.9 C187.67,465.13 188.63,465.2 186.8,464.6 C184.97,464 185.65,463.52 183.4,461.9 C181.15,460.28 181.34,460.61 179.3,459.2 C177.26,457.79 177.89,459.03 176.6,457.2 C175.31,455.37 175.48,454.33 175,453.1 Z" stroke="#86de66" stroke-width="0.7" fill="#6ad24c" />
</g></g>
<g clip-path="url(#cg2)">
<rect x="41.6" y="516.4" width="175" height="77.9" fill="#0d0e12" stroke="none" stroke-width="1" />
<g filter="url(#gb2)">
<path d="M42.6,572 C44,580 45.3,587.6 45.9,596" stroke="#4848c8" stroke-width="3" fill="none" opacity="0.9"/>
<path d="M72,518 C62,540 56,560 50,596" stroke="#1c1c55" stroke-width="6" fill="none" opacity="0.5"/>
</g>
<g filter="url(#gb)">
<path d="M70.2,525.2 C71.4,524.99 72.43,523.51 74.2,524.5 C75.97,525.49 75.14,525.92 76.1,528.5 C77.06,531.08 77.79,531.54 77.4,533.1 C77.01,534.66 76.57,534.3 74.8,533.7 C73.03,533.1 72.94,532.66 71.5,531.1 C70.06,529.54 70.45,529.28 70,528.5 Z" stroke="#86de66" stroke-width="0.7" fill="#6ad24c" />
<path d="M103.1,533.1 C104.09,532.89 104.84,531.62 106.4,532.4 C107.96,533.18 107.73,533.54 108.3,535.7 C108.87,537.86 109.08,538.04 108.3,539.6 C107.52,541.16 107.47,540.9 105.7,540.9 C103.93,540.9 103.57,540.98 102.4,539.6 C101.23,538.22 101.98,537.29 101.8,536.3 Z" stroke="#86de66" stroke-width="0.7" fill="#6ad24c" />
<path d="M84,553.4 C84.6,553.61 85.22,552.9 86,554.1 C86.78,555.3 85.82,555.24 86.6,557.4 C87.38,559.56 87.91,558.75 88.6,561.3 C89.29,563.85 89.5,563.74 88.9,565.9 C88.3,568.06 88.46,567.9 86.6,568.5 C84.74,569.1 84.53,569.07 82.7,567.9 C80.87,566.73 80.89,566.97 80.5,564.6 C80.11,562.23 80.53,562.16 81.4,560 C82.27,557.84 82.8,558.18 83.4,557.4 Z" stroke="#86de66" stroke-width="0.7" fill="#6ad24c" />
<path d="M110.3,564.6 C111.86,564.39 113.73,562.91 115.5,563.9 C117.27,564.89 116.2,565.32 116.2,567.9 C116.2,570.48 116.1,569.74 115.5,572.5 C114.9,575.26 115.37,575.15 114.2,577.1 C113.03,579.05 113.76,578.61 111.6,579 C109.44,579.39 107.99,579.78 107,578.4 C106.01,577.02 107.1,576.38 108.3,574.4 C109.5,572.42 110.01,573.57 111,571.8 C111.99,570.03 111.42,569.49 111.6,568.5 Z" stroke="#86de66" stroke-width="0.7" fill="#6ad24c" />
<path d="M116.2,591.5 C117.37,591.11 117.94,589.81 120.1,590.2 C122.26,590.59 122.29,590.76 123.4,592.8 C124.51,594.84 126.17,595.74 123.8,597 C121.43,598.26 117.99,597 115.5,597 Z" stroke="#86de66" stroke-width="0.7" fill="#6ad24c" />
<path d="M200.3,524.9 C201.74,523.88 202.04,523.15 205.1,521.5 C208.16,519.85 207.65,519.01 210.5,519.4 C213.35,519.79 213.79,520.55 214.6,522.8 C215.41,525.05 215.24,525.25 213.2,526.9 C211.16,528.55 211.04,528.09 207.8,528.3 C204.56,528.51 204.02,527.81 202.4,527.6 Z" stroke="#86de66" stroke-width="0.7" fill="#6ad24c" />
<path d="M213.2,550 C214.52,550.39 216.28,548.45 217.6,551.3 C218.92,554.15 219.31,556.83 217.6,559.5 C215.89,562.17 214.21,561.01 211.9,560.2 C209.59,559.39 209.9,558.84 209.9,556.8 C209.9,554.76 211.3,554.42 211.9,553.4 Z" stroke="#86de66" stroke-width="0.7" fill="#6ad24c" />
<path d="M187.4,567.6 C189.05,567.39 189.63,567.29 192.9,566.9 C196.17,566.51 196.47,565.67 198.3,566.3 C200.13,566.93 199.81,567.38 199,569 C198.19,570.62 197.85,570.47 195.6,571.7 C193.35,572.93 193.75,573.1 191.5,573.1 C189.25,573.1 189.12,572.12 188.1,571.7 Z" stroke="#86de66" stroke-width="0.7" fill="#6ad24c" />
</g></g>
<text x="43.1" y="446.4" font-size="9.8" text-anchor="start" fill="#f2f2f2" font-weight="bold" stroke="#f2f2f2" stroke-width="0.28" >fibrillar A&#946;</text>
<text x="42.9" y="527.1" font-size="9.8" text-anchor="start" fill="#f2f2f2" font-weight="bold" stroke="#f2f2f2" stroke-width="0.28" >fibrillar A&#946;+MVs</text>
<text x="189.7" y="585.3" font-size="9.8" text-anchor="middle" fill="#f2f2f2" font-weight="bold" stroke="#f2f2f2" stroke-width="0.28" >10 &#956;M</text>
<rect x="175.3" y="588" width="28.6" height="1.5" fill="#e8e8e8" stroke="none" stroke-width="1" />
<path d="M279.3,563.3 C279.62,558.32 279.62,544 281.22,533.41 C282.83,522.83 286.03,508.82 288.92,499.79 C291.81,490.76 295.33,483.75 298.54,479.24 C301.75,474.73 304.95,474.26 308.16,472.7 C311.37,471.15 314.57,470.37 317.78,469.9 C320.99,469.43 324.19,469.9 327.4,469.9 C330.61,469.9 332.21,469.9 337.02,469.9 C341.83,469.9 349.85,469.9 356.26,469.9 C362.67,469.9 369.09,469.9 375.5,469.9 C381.91,469.9 391.53,469.9 394.74,469.9" stroke="#c8202e" stroke-width="0.8" fill="none" stroke-dasharray="1.5,1.5" opacity="0.6"/>
<path d="M279.3,563.3 C279.62,559.56 279.62,549.6 281.22,540.88 C282.83,532.17 286.03,519.09 288.92,511 C291.81,502.9 295.33,497.14 298.54,492.32 C301.75,487.49 304.95,484.53 308.16,482.04 C311.37,479.55 314.57,478.54 317.78,477.37 C320.99,476.2 324.19,475.66 327.4,475.04 C330.61,474.41 332.21,474.18 337.02,473.64 C341.83,473.09 349.85,472.31 356.26,471.77 C362.67,471.22 369.09,470.68 375.5,470.37 C381.91,470.06 391.53,469.98 394.74,469.9" stroke="#c8202e" stroke-width="0.8" fill="none" opacity="0.65"/>
<rect x="279.92" y="532.11" width="2.6" height="2.6" fill="#c8202e" stroke="none" stroke-width="1" />
<rect x="287.62" y="498.49" width="2.6" height="2.6" fill="#c8202e" stroke="none" stroke-width="1" />
<rect x="297.24" y="477.94" width="2.6" height="2.6" fill="#c8202e" stroke="none" stroke-width="1" />
<rect x="306.86" y="471.4" width="2.6" height="2.6" fill="#c8202e" stroke="none" stroke-width="1" />
<rect x="316.48" y="468.6" width="2.6" height="2.6" fill="#c8202e" stroke="none" stroke-width="1" />
<rect x="326.1" y="468.6" width="2.6" height="2.6" fill="#c8202e" stroke="none" stroke-width="1" />
<rect x="335.72" y="468.6" width="2.6" height="2.6" fill="#c8202e" stroke="none" stroke-width="1" />
<rect x="354.96" y="468.6" width="2.6" height="2.6" fill="#c8202e" stroke="none" stroke-width="1" />
<rect x="374.2" y="468.6" width="2.6" height="2.6" fill="#c8202e" stroke="none" stroke-width="1" />
<rect x="393.44" y="468.6" width="2.6" height="2.6" fill="#c8202e" stroke="none" stroke-width="1" />
<rect x="279.92" y="539.58" width="2.6" height="2.6" fill="#c8202e" stroke="none" stroke-width="1" />
<rect x="287.62" y="509.7" width="2.6" height="2.6" fill="#c8202e" stroke="none" stroke-width="1" />
<rect x="297.24" y="491.02" width="2.6" height="2.6" fill="#c8202e" stroke="none" stroke-width="1" />
<rect x="306.86" y="480.74" width="2.6" height="2.6" fill="#c8202e" stroke="none" stroke-width="1" />
<rect x="316.48" y="476.07" width="2.6" height="2.6" fill="#c8202e" stroke="none" stroke-width="1" />
<rect x="326.1" y="473.74" width="2.6" height="2.6" fill="#c8202e" stroke="none" stroke-width="1" />
<rect x="335.72" y="472.34" width="2.6" height="2.6" fill="#c8202e" stroke="none" stroke-width="1" />
<rect x="354.96" y="470.47" width="2.6" height="2.6" fill="#c8202e" stroke="none" stroke-width="1" />
<rect x="374.2" y="469.07" width="2.6" height="2.6" fill="#c8202e" stroke="none" stroke-width="1" />
<rect x="393.44" y="468.6" width="2.6" height="2.6" fill="#c8202e" stroke="none" stroke-width="1" />
<line x1="279.3" y1="461.7" x2="279.3" y2="563.9" stroke="#3a3a3a" stroke-width="1.3" />
<line x1="278.7" y1="563.3" x2="404" y2="563.3" stroke="#3a3a3a" stroke-width="1.3" />
<line x1="276.3" y1="563.3" x2="279.3" y2="563.3" stroke="#3a3a3a" stroke-width="1" />
<text x="273.2" y="567.81" font-size="12.6" text-anchor="end" fill="#1a1a1a" font-weight="normal" stroke="#1a1a1a" stroke-width="0.28" >0</text>
<line x1="276.3" y1="544.62" x2="279.3" y2="544.62" stroke="#3a3a3a" stroke-width="1" />
<text x="273.2" y="549.13" font-size="12.6" text-anchor="end" fill="#1a1a1a" font-weight="normal" stroke="#1a1a1a" stroke-width="0.28" >20</text>
<line x1="276.3" y1="525.94" x2="279.3" y2="525.94" stroke="#3a3a3a" stroke-width="1" />
<text x="273.2" y="530.45" font-size="12.6" text-anchor="end" fill="#1a1a1a" font-weight="normal" stroke="#1a1a1a" stroke-width="0.28" >40</text>
<line x1="276.3" y1="507.26" x2="279.3" y2="507.26" stroke="#3a3a3a" stroke-width="1" />
<text x="273.2" y="511.77" font-size="12.6" text-anchor="end" fill="#1a1a1a" font-weight="normal" stroke="#1a1a1a" stroke-width="0.28" >60</text>
<line x1="276.3" y1="488.58" x2="279.3" y2="488.58" stroke="#3a3a3a" stroke-width="1" />
<text x="273.2" y="493.09" font-size="12.6" text-anchor="end" fill="#1a1a1a" font-weight="normal" stroke="#1a1a1a" stroke-width="0.28" >80</text>
<line x1="276.3" y1="469.9" x2="279.3" y2="469.9" stroke="#3a3a3a" stroke-width="1" />
<text x="273.2" y="474.41" font-size="12.6" text-anchor="end" fill="#1a1a1a" font-weight="normal" stroke="#1a1a1a" stroke-width="0.28" >100</text>
<line x1="277.5" y1="553.96" x2="279.3" y2="553.96" stroke="#3a3a3a" stroke-width="0.9" />
<line x1="277.5" y1="535.28" x2="279.3" y2="535.28" stroke="#3a3a3a" stroke-width="0.9" />
<line x1="277.5" y1="516.6" x2="279.3" y2="516.6" stroke="#3a3a3a" stroke-width="0.9" />
<line x1="277.5" y1="497.92" x2="279.3" y2="497.92" stroke="#3a3a3a" stroke-width="0.9" />
<line x1="277.5" y1="479.24" x2="279.3" y2="479.24" stroke="#3a3a3a" stroke-width="0.9" />
<line x1="277.5" y1="460.56" x2="279.3" y2="460.56" stroke="#3a3a3a" stroke-width="0.9" />
<line x1="279.3" y1="563.3" x2="279.3" y2="566.3" stroke="#3a3a3a" stroke-width="1" />
<text x="279.3" y="580.11" font-size="12.6" text-anchor="middle" fill="#1a1a1a" font-weight="normal" stroke="#1a1a1a" stroke-width="0.28" >0</text>
<line x1="298.54" y1="563.3" x2="298.54" y2="566.3" stroke="#3a3a3a" stroke-width="1" />
<text x="298.54" y="580.11" font-size="12.6" text-anchor="middle" fill="#1a1a1a" font-weight="normal" stroke="#1a1a1a" stroke-width="0.28" >10</text>
<line x1="317.78" y1="563.3" x2="317.78" y2="566.3" stroke="#3a3a3a" stroke-width="1" />
<text x="317.78" y="580.11" font-size="12.6" text-anchor="middle" fill="#1a1a1a" font-weight="normal" stroke="#1a1a1a" stroke-width="0.28" >20</text>
<line x1="337.02" y1="563.3" x2="337.02" y2="566.3" stroke="#3a3a3a" stroke-width="1" />
<text x="337.02" y="580.11" font-size="12.6" text-anchor="middle" fill="#1a1a1a" font-weight="normal" stroke="#1a1a1a" stroke-width="0.28" >30</text>
<line x1="356.26" y1="563.3" x2="356.26" y2="566.3" stroke="#3a3a3a" stroke-width="1" />
<text x="356.26" y="580.11" font-size="12.6" text-anchor="middle" fill="#1a1a1a" font-weight="normal" stroke="#1a1a1a" stroke-width="0.28" >40</text>
<line x1="375.5" y1="563.3" x2="375.5" y2="566.3" stroke="#3a3a3a" stroke-width="1" />
<text x="375.5" y="580.11" font-size="12.6" text-anchor="middle" fill="#1a1a1a" font-weight="normal" stroke="#1a1a1a" stroke-width="0.28" >50</text>
<line x1="394.74" y1="563.3" x2="394.74" y2="566.3" stroke="#3a3a3a" stroke-width="1" />
<text x="394.74" y="580.11" font-size="12.6" text-anchor="middle" fill="#1a1a1a" font-weight="normal" stroke="#1a1a1a" stroke-width="0.28" >60</text>
<line x1="288.92" y1="563.3" x2="288.92" y2="565.1" stroke="#3a3a3a" stroke-width="0.9" />
<line x1="308.16" y1="563.3" x2="308.16" y2="565.1" stroke="#3a3a3a" stroke-width="0.9" />
<line x1="327.4" y1="563.3" x2="327.4" y2="565.1" stroke="#3a3a3a" stroke-width="0.9" />
<line x1="346.64" y1="563.3" x2="346.64" y2="565.1" stroke="#3a3a3a" stroke-width="0.9" />
<line x1="365.88" y1="563.3" x2="365.88" y2="565.1" stroke="#3a3a3a" stroke-width="0.9" />
<line x1="385.12" y1="563.3" x2="385.12" y2="565.1" stroke="#3a3a3a" stroke-width="0.9" />
<line x1="404.36" y1="563.3" x2="404.36" y2="565.1" stroke="#3a3a3a" stroke-width="0.9" />
<text x="342" y="601.8" font-size="12.3" text-anchor="middle" fill="#1a1a1a" font-weight="normal" stroke="#1a1a1a" stroke-width="0.28" >Area (&#956;m2)</text>
<text x="0" y="0" font-size="12.3" text-anchor="middle" fill="#1a1a1a" stroke="#1a1a1a" stroke-width="0.28" transform="translate(236,512.8) rotate(-90) translate(0,4.4)">Cumulative probability</text>
<line x1="353" y1="451.5" x2="363" y2="451.5" stroke="#c8202e" stroke-width="0.8" stroke-dasharray="1.5,1.5"/>
<rect x="355.1" y="450.2" width="2.6" height="2.6" fill="#c8202e" stroke="none" stroke-width="1" />
<rect x="355.1" y="459" width="2.6" height="2.6" fill="#c8202e" stroke="none" stroke-width="1" />
<text x="368.9" y="455.19" font-size="10.3" text-anchor="start" fill="#c8202e" font-weight="normal" stroke="#c8202e" stroke-width="0.28" >fibrillar-A&#946;</text>
<text x="368.9" y="464.19" font-size="10.3" text-anchor="start" fill="#c8202e" font-weight="normal" stroke="#c8202e" stroke-width="0.28" >f-A&#946;+MVs</text>
<text x="432.4" y="431.8" font-size="16.6" text-anchor="start" fill="#000" font-weight="bold" stroke="#000" stroke-width="0.28" >h</text>
<defs><linearGradient id="tg" x1="0" y1="0" x2="0" y2="1"><stop offset="0" stop-color="#ffffff"/><stop offset="0.35" stop-color="#e8e8e8"/><stop offset="0.7" stop-color="#9a9a9a"/><stop offset="1" stop-color="#333"/></linearGradient></defs>
<rect x="452.5" y="479.1" width="25.6" height="63.2" fill="url(#tg)" stroke="none" stroke-width="1" />
<rect x="452.5" y="464.1" width="25.6" height="15" fill="#4b8a3c" stroke="none" stroke-width="1" />
<path d="M452.5,542.3 L478.1,542.3 L478.1,551.3 L465.3,567.7 L452.5,551.3 Z" stroke="#555" stroke-width="0.8" fill="#f3e840" />
<line x1="452.5" y1="453" x2="452.5" y2="551.3" stroke="#555" stroke-width="0.9" />
<line x1="478.1" y1="453" x2="478.1" y2="551.3" stroke="#555" stroke-width="0.9" />
<text x="465.3" y="452.65" font-size="8.8" text-anchor="middle" fill="#222" font-weight="normal" stroke="#222" stroke-width="0.28" >sucrose</text>
<text x="465.3" y="474.64" font-size="9.6" text-anchor="middle" fill="#1a2a10" font-weight="normal" stroke="#1a2a10" stroke-width="0.28" >20%</text>
<text x="465.3" y="555.84" font-size="9.6" text-anchor="middle" fill="#222" font-weight="normal" stroke="#222" stroke-width="0.28" >60%</text>
<line x1="465.3" y1="494.2" x2="465.3" y2="507" stroke="#111" stroke-width="1.2" />
<path d="M461.8,503.3 L465.3,507.4 L468.8,503.3" stroke="#111" stroke-width="1.2" fill="none" />
<text x="451.3" y="471.19" font-size="10.3" text-anchor="end" fill="#444" font-weight="normal" stroke="#444" stroke-width="0.28" >s-A&#946;</text>
<text x="451.3" y="482.79" font-size="10.3" text-anchor="end" fill="#444" font-weight="normal" stroke="#444" stroke-width="0.28" >MVs</text>
<text x="451.3" y="555.59" font-size="10.3" text-anchor="end" fill="#444" font-weight="normal" stroke="#444" stroke-width="0.28" >f-A&#946;</text>
<text x="0" y="0" font-size="12.6" text-anchor="middle" fill="#1a1a1a" stroke="#1a1a1a" stroke-width="0.28" transform="translate(487.3,487.6) rotate(-90) translate(0,4.51)">A&#946; %</text>
<rect x="533.3" y="543.19" width="19.9" height="5.41" fill="#4b8a3c" stroke="#3a6a2c" stroke-width="0.6" />
<rect x="553.2" y="433.28" width="20.2" height="115.32" fill="#f3e840" stroke="#5a5a3a" stroke-width="0.6" />
<line x1="563.3" y1="430.28" x2="563.3" y2="433.28" stroke="#777" stroke-width="0.8" />
<line x1="562.1" y1="430.28" x2="564.5" y2="430.28" stroke="#777" stroke-width="0.8" />
<rect x="583.1" y="463.31" width="19.9" height="85.29" fill="#4b8a3c" stroke="#3a6a2c" stroke-width="0.6" />
<line x1="593.05" y1="462.95" x2="593.05" y2="463.31" stroke="#777" stroke-width="0.8" />
<line x1="591.85" y1="462.95" x2="594.25" y2="462.95" stroke="#777" stroke-width="0.8" />
<rect x="603" y="513.16" width="19.4" height="35.44" fill="#f3e840" stroke="#5a5a3a" stroke-width="0.6" />
<line x1="612.7" y1="510.4" x2="612.7" y2="513.16" stroke="#777" stroke-width="0.8" />
<line x1="611.5" y1="510.4" x2="613.9" y2="510.4" stroke="#777" stroke-width="0.8" />
<rect x="632.3" y="497.55" width="19.4" height="51.05" fill="#4b8a3c" stroke="#3a6a2c" stroke-width="0.6" />
<line x1="642" y1="493.59" x2="642" y2="497.55" stroke="#777" stroke-width="0.8" />
<line x1="640.8" y1="493.59" x2="643.2" y2="493.59" stroke="#777" stroke-width="0.8" />
<rect x="651.7" y="478.93" width="19.9" height="69.67" fill="#f3e840" stroke="#5a5a3a" stroke-width="0.6" />
<line x1="661.65" y1="475.93" x2="661.65" y2="478.93" stroke="#777" stroke-width="0.8" />
<line x1="660.45" y1="475.93" x2="662.85" y2="475.93" stroke="#777" stroke-width="0.8" />
<line x1="528.4" y1="427.6" x2="528.4" y2="549.2" stroke="#3a3a3a" stroke-width="1.3" />
<line x1="527.8" y1="548.6" x2="676.5" y2="548.6" stroke="#3a3a3a" stroke-width="1.3" />
<line x1="525.4" y1="548.6" x2="528.4" y2="548.6" stroke="#3a3a3a" stroke-width="1" />
<text x="520.3" y="553.11" font-size="12.6" text-anchor="end" fill="#1a1a1a" font-weight="normal" stroke="#1a1a1a" stroke-width="0.28" >0</text>
<line x1="525.4" y1="518.57" x2="528.4" y2="518.57" stroke="#3a3a3a" stroke-width="1" />
<text x="520.3" y="523.08" font-size="12.6" text-anchor="end" fill="#1a1a1a" font-weight="normal" stroke="#1a1a1a" stroke-width="0.28" >25</text>
<line x1="525.4" y1="488.54" x2="528.4" y2="488.54" stroke="#3a3a3a" stroke-width="1" />
<text x="520.3" y="493.05" font-size="12.6" text-anchor="end" fill="#1a1a1a" font-weight="normal" stroke="#1a1a1a" stroke-width="0.28" >50</text>
<line x1="525.4" y1="458.51" x2="528.4" y2="458.51" stroke="#3a3a3a" stroke-width="1" />
<text x="520.3" y="463.02" font-size="12.6" text-anchor="end" fill="#1a1a1a" font-weight="normal" stroke="#1a1a1a" stroke-width="0.28" >75</text>
<line x1="525.4" y1="428.48" x2="528.4" y2="428.48" stroke="#3a3a3a" stroke-width="1" />
<text x="520.3" y="432.99" font-size="12.6" text-anchor="end" fill="#1a1a1a" font-weight="normal" stroke="#1a1a1a" stroke-width="0.28" >100</text>
<line x1="526.6" y1="533.59" x2="528.4" y2="533.59" stroke="#3a3a3a" stroke-width="0.9" />
<line x1="526.6" y1="503.56" x2="528.4" y2="503.56" stroke="#3a3a3a" stroke-width="0.9" />
<line x1="526.6" y1="473.53" x2="528.4" y2="473.53" stroke="#3a3a3a" stroke-width="0.9" />
<line x1="526.6" y1="443.5" x2="528.4" y2="443.5" stroke="#3a3a3a" stroke-width="0.9" />
<line x1="578.2" y1="548.6" x2="578.2" y2="550.6" stroke="#3a3a3a" stroke-width="0.9" />
<line x1="627.4" y1="548.6" x2="627.4" y2="550.6" stroke="#3a3a3a" stroke-width="0.9" />
<line x1="543.2" y1="416.3" x2="591" y2="416.3" stroke="#222" stroke-width="1.1" />
<path d="M566,412.8 L566,409.5 M566,412.8 L562.4,411.9 M566,412.8 L569.6,411.9 M566,412.8 L563.9,415.8 M566,412.8 L568.1,415.8" stroke="#111" stroke-width="1.55" fill="none" stroke-linecap="round"/>
<line x1="562" y1="427.6" x2="611" y2="427.6" stroke="#222" stroke-width="1.1" />
<path d="M584,422.8 L584,419.5 M584,422.8 L580.4,421.9 M584,422.8 L587.6,421.9 M584,422.8 L581.9,425.8 M584,422.8 L586.1,425.8" stroke="#111" stroke-width="1.55" fill="none" stroke-linecap="round"/>
<text x="529.2" y="569.25" font-size="12.3" text-anchor="end" fill="#1a1a1a" font-weight="normal" stroke="#1a1a1a" stroke-width="0.28" >A&#946;</text>
<line x1="553.8" y1="566.6" x2="560.6" y2="566.6" stroke="#333" stroke-width="1.1" />
<line x1="557.2" y1="563.3" x2="557.2" y2="569.9" stroke="#333" stroke-width="1.1" />
<line x1="601.4" y1="566.6" x2="608.2" y2="566.6" stroke="#333" stroke-width="1.1" />
<line x1="604.8" y1="563.3" x2="604.8" y2="569.9" stroke="#333" stroke-width="1.1" />
<line x1="648.7" y1="566.6" x2="655.5" y2="566.6" stroke="#333" stroke-width="1.1" />
<line x1="652.1" y1="563.3" x2="652.1" y2="569.9" stroke="#333" stroke-width="1.1" />
<text x="529.2" y="583.75" font-size="12.3" text-anchor="end" fill="#1a1a1a" font-weight="normal" stroke="#1a1a1a" stroke-width="0.28" >MVs</text>
<line x1="553.7" y1="581.3" x2="560.7" y2="581.3" stroke="#555" stroke-width="1" />
<line x1="601.4" y1="581.3" x2="608.2" y2="581.3" stroke="#333" stroke-width="1.1" />
<line x1="604.8" y1="578" x2="604.8" y2="584.6" stroke="#333" stroke-width="1.1" />
<line x1="648.6" y1="581.3" x2="655.6" y2="581.3" stroke="#555" stroke-width="1" />
<text x="529.2" y="598.85" font-size="12.3" text-anchor="end" fill="#1a1a1a" font-weight="normal" stroke="#1a1a1a" stroke-width="0.28" >AA-MVs</text>
<line x1="553.7" y1="596" x2="560.7" y2="596" stroke="#555" stroke-width="1" />
<line x1="601.3" y1="596" x2="608.3" y2="596" stroke="#555" stroke-width="1" />
<line x1="648.7" y1="596" x2="655.5" y2="596" stroke="#333" stroke-width="1.1" />
<line x1="652.1" y1="592.7" x2="652.1" y2="599.3" stroke="#333" stroke-width="1.1" />
<text x="16.1" y="639.3" font-size="16.6" text-anchor="start" fill="#000" font-weight="bold" stroke="#000" stroke-width="0.28" >i</text>
<path d="M61.8,760.52 C65.63,760.52 65.81,760.52 74.56,760.52 C83.31,760.52 83.31,760.32 90.97,760.52 C98.62,760.73 92.97,760.55 100.08,761.21 C107.19,761.86 105.92,761.68 114.67,762.71 C123.42,763.74 120.5,763.52 129.25,764.62 C138,765.73 135.08,765.5 143.84,766.4 C152.59,767.31 149.67,767.1 158.42,767.63 C167.17,768.17 166.44,767.93 173,768.18 C179.57,768.43 175.92,768.13 180.3,768.45 C184.67,768.78 181.57,768.45 187.59,769.27 C193.6,770.1 192.69,769.71 200.35,771.19 C208,772.67 204.91,772.8 213.11,774.2 C221.31,775.59 218.4,775.1 227.69,775.84 C236.99,776.58 239.18,776.41 244.1,776.66" stroke="#444" stroke-width="1.2" fill="none"  stroke-linejoin="round"/>
<path d="M61.8,730.71 C65.63,729.4 65.81,728.8 74.56,726.33 C83.31,723.87 83.31,723 90.97,722.51 C98.62,722.01 92.97,722.07 100.08,724.69 C107.19,727.32 105.92,727.07 114.67,731.26 C123.42,735.44 120.5,734.21 129.25,738.64 C138,743.07 135.08,741.68 143.84,746.03 C152.59,750.38 149.67,749.28 158.42,753.14 C167.17,756.99 164.25,755.35 173,758.88 C181.75,762.41 179.38,762.19 187.59,764.9 C195.79,767.61 192.69,766.18 200.35,767.91 C208,769.63 204.36,769.17 213.11,770.64 C221.86,772.12 220.22,771.93 229.52,772.83 C238.81,773.73 239.72,773.4 244.1,773.65" stroke="#6f82c4" stroke-width="1" fill="none" stroke-dasharray="2.6,2.0" stroke-linejoin="round"/>
<path d="M61.8,722.78 C65.63,721.3 65.81,720.32 74.56,717.86 C83.31,715.39 83.31,715.31 90.97,714.57 C98.62,713.84 92.97,713.43 100.08,715.39 C107.19,717.36 105.92,717.2 114.67,721.14 C123.42,725.08 120.5,723.68 129.25,728.52 C138,733.36 135.08,732.52 143.84,737.27 C152.59,742.03 149.67,740.04 158.42,744.39 C167.17,748.73 164.25,747.83 173,751.77 C181.75,755.71 179.38,753.99 187.59,757.51 C195.79,761.04 192.69,760.5 200.35,763.53 C208,766.57 204.36,765.5 213.11,767.63 C221.86,769.77 220.22,769.25 229.52,770.64 C238.81,772.04 239.72,771.79 244.1,772.28" stroke="#8393cc" stroke-width="1" fill="none" stroke-dasharray="0.9,1.3" stroke-linejoin="round"/>
<path d="M61.8,705.82 C64.53,702.13 65.45,699.26 70.91,693.51 C76.38,687.77 74.01,689.71 80.03,686.68 C86.05,683.64 84.95,683.81 90.97,683.4 C96.98,682.99 92.97,681.62 100.08,685.31 C107.19,689 105.92,689.14 114.67,695.7 C123.42,702.27 120.5,699.97 129.25,707.19 C138,714.41 135.08,712.55 143.84,719.77 C152.59,726.99 149.67,724.61 158.42,731.26 C167.17,737.9 164.25,735.93 173,741.92 C181.75,747.91 179.38,746.38 187.59,751.22 C195.79,756.06 192.69,754.2 200.35,758.06 C208,761.92 204.91,760.88 213.11,764.08 C221.31,767.28 218.4,766.51 227.69,768.73 C236.99,770.94 239.18,770.64 244.1,771.46" stroke="#e6808a" stroke-width="1" fill="none" stroke-dasharray="0.9,1.3" stroke-linejoin="round"/>
<path d="M61.8,708.56 C63.99,705.69 65.26,703.33 69.09,698.98 C72.92,694.64 70.19,696.93 74.56,694.06 C78.94,691.19 78.21,691.71 83.68,689.41 C89.14,687.12 87.87,686.98 92.79,686.4 C97.71,685.83 93.52,684.13 100.08,687.5 C106.65,690.86 105.92,691.3 114.67,697.62 C123.42,703.94 120.5,701.5 129.25,708.56 C138,715.61 135.08,713.92 143.84,721.14 C152.59,728.36 149.67,726.06 158.42,732.63 C167.17,739.19 164.25,737.19 173,743.02 C181.75,748.84 179.38,747.37 187.59,752.04 C195.79,756.72 192.69,754.92 200.35,758.61 C208,762.3 204.91,761.23 213.11,764.35 C221.31,767.47 218.4,766.87 227.69,769 C236.99,771.13 239.18,770.72 244.1,771.46" stroke="#e05c68" stroke-width="1" fill="none" stroke-dasharray="2.6,2.0" stroke-linejoin="round"/>
<path d="M61.8,700.9 C63.99,699.34 65.26,697.84 69.09,695.7 C72.92,693.57 70.73,695.27 74.56,693.79 C78.39,692.31 77.48,692.5 81.85,690.78 C86.23,689.06 85.32,689.03 89.14,688.04 C92.97,687.06 91.33,687.17 94.61,687.5 C97.9,687.83 94.07,685.61 100.08,689.14 C106.1,692.67 105.92,693.19 114.67,699.26 C123.42,705.33 120.5,702.4 129.25,709.38 C138,716.35 135.08,715.04 143.84,722.51 C152.59,729.97 149.67,727.7 158.42,734.27 C167.17,740.83 164.25,738.72 173,744.39 C181.75,750.05 179.38,748.71 187.59,753.14 C195.79,757.57 192.42,755.71 200.35,759.15 C208.28,762.6 205.27,761.59 214.02,764.62 C222.77,767.66 220.49,767.22 229.52,769.27 C238.54,771.33 239.72,770.81 244.1,771.46" stroke="#5a6fbe" stroke-width="1.1" fill="none"  stroke-linejoin="round"/>
<path d="M61.8,692.15 C63.99,688.46 65.26,685.83 69.09,679.84 C72.92,673.85 70.73,676.12 74.56,672.18 C78.39,668.24 76.93,669.99 81.85,666.71 C86.78,663.43 86.59,662.64 90.97,661.24 C95.34,659.85 93.7,661 96.44,662.06 C99.17,663.13 94.61,659.79 100.08,664.8 C105.55,669.8 105.92,670.62 114.67,678.75 C123.42,686.87 120.5,683.09 129.25,691.87 C138,700.65 135.08,698.41 143.84,708.01 C152.59,717.61 149.67,715.59 158.42,723.87 C167.17,732.16 164.25,728.58 173,735.63 C181.75,742.69 179.38,741.24 187.59,747.39 C195.79,753.55 192.42,751.39 200.35,756.15 C208.28,760.91 205.27,759.57 214.02,763.26 C222.77,766.95 220.49,766.24 229.52,768.45 C238.54,770.67 239.72,769.99 244.1,770.64" stroke="#e04c5a" stroke-width="1.2" fill="none"  stroke-linejoin="round"/>
<rect x="61.8" y="641.6" width="182.3" height="136.7" fill="none" stroke="#3a3a3a" stroke-width="1.3" />
<line x1="58.8" y1="778.3" x2="61.8" y2="778.3" stroke="#3a3a3a" stroke-width="1" />
<line x1="244.1" y1="778.3" x2="242.1" y2="778.3" stroke="#3a3a3a" stroke-width="1" />
<text x="52.5" y="782.45" font-size="11.6" text-anchor="end" fill="#1a1a1a" font-weight="normal" stroke="#1a1a1a" stroke-width="0.28" >0</text>
<line x1="60" y1="764.62" x2="61.8" y2="764.62" stroke="#3a3a3a" stroke-width="1" />
<line x1="244.1" y1="764.62" x2="242.1" y2="764.62" stroke="#3a3a3a" stroke-width="1" />
<line x1="58.8" y1="750.95" x2="61.8" y2="750.95" stroke="#3a3a3a" stroke-width="1" />
<line x1="244.1" y1="750.95" x2="242.1" y2="750.95" stroke="#3a3a3a" stroke-width="1" />
<text x="52.5" y="755.1" font-size="11.6" text-anchor="end" fill="#1a1a1a" font-weight="normal" stroke="#1a1a1a" stroke-width="0.28" >10</text>
<line x1="60" y1="737.27" x2="61.8" y2="737.27" stroke="#3a3a3a" stroke-width="1" />
<line x1="244.1" y1="737.27" x2="242.1" y2="737.27" stroke="#3a3a3a" stroke-width="1" />
<line x1="58.8" y1="723.6" x2="61.8" y2="723.6" stroke="#3a3a3a" stroke-width="1" />
<line x1="244.1" y1="723.6" x2="242.1" y2="723.6" stroke="#3a3a3a" stroke-width="1" />
<text x="52.5" y="727.75" font-size="11.6" text-anchor="end" fill="#1a1a1a" font-weight="normal" stroke="#1a1a1a" stroke-width="0.28" >20</text>
<line x1="60" y1="709.92" x2="61.8" y2="709.92" stroke="#3a3a3a" stroke-width="1" />
<line x1="244.1" y1="709.92" x2="242.1" y2="709.92" stroke="#3a3a3a" stroke-width="1" />
<line x1="58.8" y1="696.25" x2="61.8" y2="696.25" stroke="#3a3a3a" stroke-width="1" />
<line x1="244.1" y1="696.25" x2="242.1" y2="696.25" stroke="#3a3a3a" stroke-width="1" />
<text x="52.5" y="700.4" font-size="11.6" text-anchor="end" fill="#1a1a1a" font-weight="normal" stroke="#1a1a1a" stroke-width="0.28" >30</text>
<line x1="60" y1="682.57" x2="61.8" y2="682.57" stroke="#3a3a3a" stroke-width="1" />
<line x1="244.1" y1="682.57" x2="242.1" y2="682.57" stroke="#3a3a3a" stroke-width="1" />
<line x1="58.8" y1="668.9" x2="61.8" y2="668.9" stroke="#3a3a3a" stroke-width="1" />
<line x1="244.1" y1="668.9" x2="242.1" y2="668.9" stroke="#3a3a3a" stroke-width="1" />
<text x="52.5" y="673.05" font-size="11.6" text-anchor="end" fill="#1a1a1a" font-weight="normal" stroke="#1a1a1a" stroke-width="0.28" >40</text>
<line x1="60" y1="655.22" x2="61.8" y2="655.22" stroke="#3a3a3a" stroke-width="1" />
<line x1="244.1" y1="655.22" x2="242.1" y2="655.22" stroke="#3a3a3a" stroke-width="1" />
<line x1="58.8" y1="641.55" x2="61.8" y2="641.55" stroke="#3a3a3a" stroke-width="1" />
<line x1="244.1" y1="641.55" x2="242.1" y2="641.55" stroke="#3a3a3a" stroke-width="1" />
<text x="52.5" y="645.7" font-size="11.6" text-anchor="end" fill="#1a1a1a" font-weight="normal" stroke="#1a1a1a" stroke-width="0.28" >50</text>
<line x1="61.8" y1="778.3" x2="61.8" y2="781.3" stroke="#3a3a3a" stroke-width="1" />
<line x1="61.8" y1="641.6" x2="61.8" y2="643.6" stroke="#3a3a3a" stroke-width="1" />
<text x="61.8" y="795.52" font-size="10.4" text-anchor="middle" fill="#1a1a1a" font-weight="normal" stroke="#1a1a1a" stroke-width="0.28" >465</text>
<line x1="75.47" y1="778.3" x2="75.47" y2="780.1" stroke="#3a3a3a" stroke-width="1" />
<line x1="75.47" y1="641.6" x2="75.47" y2="643.6" stroke="#3a3a3a" stroke-width="1" />
<line x1="89.14" y1="778.3" x2="89.14" y2="781.3" stroke="#3a3a3a" stroke-width="1" />
<line x1="89.14" y1="641.6" x2="89.14" y2="643.6" stroke="#3a3a3a" stroke-width="1" />
<text x="89.14" y="795.52" font-size="10.4" text-anchor="middle" fill="#1a1a1a" font-weight="normal" stroke="#1a1a1a" stroke-width="0.28" >480</text>
<line x1="102.82" y1="778.3" x2="102.82" y2="780.1" stroke="#3a3a3a" stroke-width="1" />
<line x1="102.82" y1="641.6" x2="102.82" y2="643.6" stroke="#3a3a3a" stroke-width="1" />
<line x1="116.49" y1="778.3" x2="116.49" y2="781.3" stroke="#3a3a3a" stroke-width="1" />
<line x1="116.49" y1="641.6" x2="116.49" y2="643.6" stroke="#3a3a3a" stroke-width="1" />
<text x="116.49" y="795.52" font-size="10.4" text-anchor="middle" fill="#1a1a1a" font-weight="normal" stroke="#1a1a1a" stroke-width="0.28" >495</text>
<line x1="130.16" y1="778.3" x2="130.16" y2="780.1" stroke="#3a3a3a" stroke-width="1" />
<line x1="130.16" y1="641.6" x2="130.16" y2="643.6" stroke="#3a3a3a" stroke-width="1" />
<line x1="143.84" y1="778.3" x2="143.84" y2="781.3" stroke="#3a3a3a" stroke-width="1" />
<line x1="143.84" y1="641.6" x2="143.84" y2="643.6" stroke="#3a3a3a" stroke-width="1" />
<text x="143.84" y="795.52" font-size="10.4" text-anchor="middle" fill="#1a1a1a" font-weight="normal" stroke="#1a1a1a" stroke-width="0.28" >510</text>
<line x1="157.51" y1="778.3" x2="157.51" y2="780.1" stroke="#3a3a3a" stroke-width="1" />
<line x1="157.51" y1="641.6" x2="157.51" y2="643.6" stroke="#3a3a3a" stroke-width="1" />
<line x1="171.18" y1="778.3" x2="171.18" y2="781.3" stroke="#3a3a3a" stroke-width="1" />
<line x1="171.18" y1="641.6" x2="171.18" y2="643.6" stroke="#3a3a3a" stroke-width="1" />
<text x="171.18" y="795.52" font-size="10.4" text-anchor="middle" fill="#1a1a1a" font-weight="normal" stroke="#1a1a1a" stroke-width="0.28" >525</text>
<line x1="184.85" y1="778.3" x2="184.85" y2="780.1" stroke="#3a3a3a" stroke-width="1" />
<line x1="184.85" y1="641.6" x2="184.85" y2="643.6" stroke="#3a3a3a" stroke-width="1" />
<line x1="198.53" y1="778.3" x2="198.53" y2="781.3" stroke="#3a3a3a" stroke-width="1" />
<line x1="198.53" y1="641.6" x2="198.53" y2="643.6" stroke="#3a3a3a" stroke-width="1" />
<text x="198.53" y="795.52" font-size="10.4" text-anchor="middle" fill="#1a1a1a" font-weight="normal" stroke="#1a1a1a" stroke-width="0.28" >540</text>
<line x1="212.2" y1="778.3" x2="212.2" y2="780.1" stroke="#3a3a3a" stroke-width="1" />
<line x1="212.2" y1="641.6" x2="212.2" y2="643.6" stroke="#3a3a3a" stroke-width="1" />
<line x1="225.87" y1="778.3" x2="225.87" y2="781.3" stroke="#3a3a3a" stroke-width="1" />
<line x1="225.87" y1="641.6" x2="225.87" y2="643.6" stroke="#3a3a3a" stroke-width="1" />
<text x="225.87" y="795.52" font-size="10.4" text-anchor="middle" fill="#1a1a1a" font-weight="normal" stroke="#1a1a1a" stroke-width="0.28" >555</text>
<line x1="239.54" y1="778.3" x2="239.54" y2="780.1" stroke="#3a3a3a" stroke-width="1" />
<line x1="239.54" y1="641.6" x2="239.54" y2="643.6" stroke="#3a3a3a" stroke-width="1" />
<text x="153.05" y="815.6" font-size="12.3" text-anchor="middle" fill="#1a1a1a" font-weight="normal" stroke="#1a1a1a" stroke-width="0.28" >&#955; (nm)</text>
<text x="0" y="0" font-size="12.6" text-anchor="middle" fill="#1a1a1a" stroke="#1a1a1a" stroke-width="0.28" transform="translate(21.4,710.5) rotate(-90) translate(0,4.51)">Intensity (a.u.)</text>
<line x1="152" y1="651.5" x2="171.3" y2="651.5" stroke="#444" stroke-width="1.4" />
<text x="174.8" y="655.19" font-size="10.3" text-anchor="start" fill="#1a1a1a" font-weight="normal" stroke="#1a1a1a" stroke-width="0.28" >Thioflavin-T</text>
<line x1="152" y1="663.6" x2="171.3" y2="663.6" stroke="#5068b8" stroke-width="1.3" />
<text x="174.8" y="667.29" font-size="10.3" text-anchor="start" fill="#5068b8" font-weight="normal" stroke="#5068b8" stroke-width="0.28" >A&#946;</text>
<line x1="152" y1="676" x2="171.3" y2="676" stroke="#5068b8" stroke-width="1.3" stroke-dasharray="3.2,2.6"/>
<text x="174.8" y="679.69" font-size="10.3" text-anchor="start" fill="#5068b8" font-weight="normal" stroke="#5068b8" stroke-width="0.28" >A&#946;+MVs</text>
<line x1="152" y1="688.2" x2="171.3" y2="688.2" stroke="#5068b8" stroke-width="1.2" stroke-dasharray="1,1.2"/>
<text x="174.8" y="691.89" font-size="10.3" text-anchor="start" fill="#5068b8" font-weight="normal" stroke="#5068b8" stroke-width="0.28" >A&#946;+MV lipids</text>
<line x1="152" y1="700.1" x2="171.3" y2="700.1" stroke="#d8343e" stroke-width="1.6" />
<text x="174.8" y="703.79" font-size="10.3" text-anchor="start" fill="#d8343e" font-weight="normal" stroke="#d8343e" stroke-width="0.28" >f-A&#946;</text>
<line x1="152" y1="712.2" x2="171.3" y2="712.2" stroke="#d8343e" stroke-width="1.5" stroke-dasharray="3.2,2.6"/>
<text x="174.8" y="715.89" font-size="10.3" text-anchor="start" fill="#d8343e" font-weight="normal" stroke="#d8343e" stroke-width="0.28" >f-A&#946; +MVs</text>
<line x1="152" y1="724.2" x2="171.3" y2="724.2" stroke="#d8343e" stroke-width="1.3" stroke-dasharray="1,1.2"/>
<text x="174.8" y="727.89" font-size="10.3" text-anchor="start" fill="#d8343e" font-weight="normal" stroke="#d8343e" stroke-width="0.28" >f-A&#946; +MV lipids</text>
<text x="92.7" y="659.5" font-size="5.6" text-anchor="middle" fill="#b02030" font-weight="bold" >42.9</text>
<line x1="88.2" y1="661" x2="97.2" y2="661" stroke="#b02030" stroke-width="0.7" />
<text x="92.7" y="711.2" font-size="5.6" text-anchor="middle" fill="#33449a" font-weight="bold" >23.9</text>
<line x1="88.2" y1="713.2" x2="97.2" y2="713.2" stroke="#33449a" stroke-width="0.7" />
<text x="92.7" y="729.6" font-size="5.6" text-anchor="middle" fill="#33449a" font-weight="bold" >20.4</text>
<line x1="88.2" y1="722" x2="97.2" y2="722" stroke="#33449a" stroke-width="0.7" />
<text x="91.8" y="694.6" font-size="5.6" text-anchor="middle" fill="#33449a" font-weight="bold" >33.3</text>
<text x="91.4" y="758" font-size="5.6" text-anchor="middle" fill="#333" font-weight="bold" >6.6</text>
<line x1="86.9" y1="758.8" x2="95.9" y2="758.8" stroke="#333" stroke-width="0.7" />
<text x="80.9" y="675.3" font-size="5.6" text-anchor="middle" fill="#b02030" font-weight="bold" >34.7</text>
<text x="80" y="681.9" font-size="5.6" text-anchor="middle" fill="#b02030" font-weight="bold" >33.6</text>
<line x1="85.5" y1="675.5" x2="92" y2="683" stroke="#b02030" stroke-width="0.6" />
<line x1="85.5" y1="681" x2="90.5" y2="686.5" stroke="#b02030" stroke-width="0.6" />
<text x="276.6" y="633.2" font-size="16.6" text-anchor="start" fill="#000" font-weight="bold" stroke="#000" stroke-width="0.28" >j</text>
<rect x="325.4" y="711.84" width="24.3" height="44.76" fill="#c0c0c0" stroke="#9a9a9a" stroke-width="1" />
<line x1="337.55" y1="708.19" x2="337.55" y2="711.34" stroke="#8a8a8a" stroke-width="0.9" />
<line x1="336.35" y1="708.19" x2="338.75" y2="708.19" stroke="#8a8a8a" stroke-width="0.9" />
<rect x="356.9" y="664.48" width="24.3" height="92.12" fill="#c0c0c0" stroke="#9a9a9a" stroke-width="1" />
<line x1="369.05" y1="653.46" x2="369.05" y2="663.98" stroke="#8a8a8a" stroke-width="0.9" />
<line x1="367.85" y1="653.46" x2="370.25" y2="653.46" stroke="#8a8a8a" stroke-width="0.9" />
<rect x="387.7" y="658.16" width="24.3" height="98.44" fill="#c0c0c0" stroke="#9a9a9a" stroke-width="1" />
<line x1="399.85" y1="646.61" x2="399.85" y2="657.66" stroke="#8a8a8a" stroke-width="0.9" />
<line x1="398.65" y1="646.61" x2="401.05" y2="646.61" stroke="#8a8a8a" stroke-width="0.9" />
<rect x="418" y="715" width="24.3" height="41.6" fill="#c0c0c0" stroke="#9a9a9a" stroke-width="1" />
<line x1="430.15" y1="709.76" x2="430.15" y2="714.5" stroke="#8a8a8a" stroke-width="0.9" />
<line x1="428.95" y1="709.76" x2="431.35" y2="709.76" stroke="#8a8a8a" stroke-width="0.9" />
<rect x="448.8" y="706.58" width="24.3" height="50.02" fill="#c0c0c0" stroke="#9a9a9a" stroke-width="1" />
<line x1="460.95" y1="703.98" x2="460.95" y2="706.08" stroke="#8a8a8a" stroke-width="0.9" />
<line x1="459.75" y1="703.98" x2="462.15" y2="703.98" stroke="#8a8a8a" stroke-width="0.9" />
<rect x="479.9" y="716.05" width="24.3" height="40.55" fill="#c0c0c0" stroke="#9a9a9a" stroke-width="1" />
<line x1="492.05" y1="714.5" x2="492.05" y2="715.55" stroke="#8a8a8a" stroke-width="0.9" />
<line x1="490.85" y1="714.5" x2="493.25" y2="714.5" stroke="#8a8a8a" stroke-width="0.9" />
<line x1="322.1" y1="640.7" x2="322.1" y2="757.2" stroke="#3a3a3a" stroke-width="1.3" />
<line x1="321.5" y1="756.6" x2="506" y2="756.6" stroke="#3a3a3a" stroke-width="1.3" />
<line x1="319.1" y1="756.6" x2="322.1" y2="756.6" stroke="#3a3a3a" stroke-width="1" />
<text x="313.4" y="762.02" font-size="12.9" text-anchor="end" fill="#1a1a1a" font-weight="normal" stroke="#1a1a1a" stroke-width="0.28" >0.6</text>
<line x1="319.1" y1="735.55" x2="322.1" y2="735.55" stroke="#3a3a3a" stroke-width="1" />
<text x="313.4" y="740.97" font-size="12.9" text-anchor="end" fill="#1a1a1a" font-weight="normal" stroke="#1a1a1a" stroke-width="0.28" >0.8</text>
<line x1="319.1" y1="714.5" x2="322.1" y2="714.5" stroke="#3a3a3a" stroke-width="1" />
<text x="313.4" y="719.92" font-size="12.9" text-anchor="end" fill="#1a1a1a" font-weight="normal" stroke="#1a1a1a" stroke-width="0.28" >1.0</text>
<line x1="319.1" y1="693.45" x2="322.1" y2="693.45" stroke="#3a3a3a" stroke-width="1" />
<text x="313.4" y="698.87" font-size="12.9" text-anchor="end" fill="#1a1a1a" font-weight="normal" stroke="#1a1a1a" stroke-width="0.28" >1.2</text>
<line x1="319.1" y1="672.4" x2="322.1" y2="672.4" stroke="#3a3a3a" stroke-width="1" />
<text x="313.4" y="677.82" font-size="12.9" text-anchor="end" fill="#1a1a1a" font-weight="normal" stroke="#1a1a1a" stroke-width="0.28" >1.4</text>
<line x1="319.1" y1="651.35" x2="322.1" y2="651.35" stroke="#3a3a3a" stroke-width="1" />
<text x="313.4" y="656.77" font-size="12.9" text-anchor="end" fill="#1a1a1a" font-weight="normal" stroke="#1a1a1a" stroke-width="0.28" >1.6</text>
<line x1="320.3" y1="746.08" x2="322.1" y2="746.08" stroke="#3a3a3a" stroke-width="0.9" />
<line x1="320.3" y1="725.02" x2="322.1" y2="725.02" stroke="#3a3a3a" stroke-width="0.9" />
<line x1="320.3" y1="703.98" x2="322.1" y2="703.98" stroke="#3a3a3a" stroke-width="0.9" />
<line x1="320.3" y1="682.93" x2="322.1" y2="682.93" stroke="#3a3a3a" stroke-width="0.9" />
<line x1="320.3" y1="661.88" x2="322.1" y2="661.88" stroke="#3a3a3a" stroke-width="0.9" />
<line x1="320.3" y1="640.83" x2="322.1" y2="640.83" stroke="#3a3a3a" stroke-width="0.9" />
<text x="0" y="0" font-size="12" text-anchor="middle" fill="#1a1a1a" stroke="#1a1a1a" stroke-width="0.28" transform="translate(284.7,699.6) rotate(-90) translate(0,4.3)">F340/380</text>
<line x1="336.7" y1="626.6" x2="397.8" y2="626.6" stroke="#222" stroke-width="1.1" />
<path d="M369.4,618.7 L369.4,615.4 M369.4,618.7 L365.8,617.8 M369.4,618.7 L373,617.8 M369.4,618.7 L367.3,621.7 M369.4,618.7 L371.5,621.7" stroke="#111" stroke-width="1.55" fill="none" stroke-linecap="round"/>
<line x1="335.5" y1="640.7" x2="367.5" y2="640.7" stroke="#222" stroke-width="1.1" />
<path d="M353.3,635.6 L353.3,632.3 M353.3,635.6 L349.7,634.7 M353.3,635.6 L356.9,634.7 M353.3,635.6 L351.2,638.6 M353.3,635.6 L355.4,638.6" stroke="#111" stroke-width="1.55" fill="none" stroke-linecap="round"/>
<line x1="399" y1="640.7" x2="431.3" y2="640.7" stroke="#222" stroke-width="1.1" />
<path d="M412.8,635.6 L412.8,632.3 M412.8,635.6 L409.2,634.7 M412.8,635.6 L416.4,634.7 M412.8,635.6 L410.7,638.6 M412.8,635.6 L414.9,638.6" stroke="#111" stroke-width="1.55" fill="none" stroke-linecap="round"/>
<line x1="441.5" y1="756.6" x2="441.5" y2="758.6" stroke="#3a3a3a" stroke-width="0.9" />
<text x="316.6" y="773.75" font-size="12.3" text-anchor="end" fill="#1a1a1a" font-weight="normal" stroke="#1a1a1a" stroke-width="0.28" >A&#946;</text>
<line x1="334.9" y1="771.1" x2="341.9" y2="771.1" stroke="#555" stroke-width="1" />
<line x1="366.8" y1="771.1" x2="373.6" y2="771.1" stroke="#333" stroke-width="1.1" />
<line x1="370.2" y1="767.8" x2="370.2" y2="774.4" stroke="#333" stroke-width="1.1" />
<line x1="398.8" y1="771.1" x2="405.6" y2="771.1" stroke="#333" stroke-width="1.1" />
<line x1="402.2" y1="767.8" x2="402.2" y2="774.4" stroke="#333" stroke-width="1.1" />
<line x1="427.9" y1="771.1" x2="434.7" y2="771.1" stroke="#333" stroke-width="1.1" />
<line x1="431.3" y1="767.8" x2="431.3" y2="774.4" stroke="#333" stroke-width="1.1" />
<line x1="459.7" y1="771.1" x2="466.7" y2="771.1" stroke="#555" stroke-width="1" />
<line x1="491.5" y1="771.1" x2="498.5" y2="771.1" stroke="#555" stroke-width="1" />
<text x="318.6" y="788.35" font-size="12.3" text-anchor="end" fill="#1a1a1a" font-weight="normal" stroke="#1a1a1a" stroke-width="0.28" >MVs</text>
<line x1="334.9" y1="786" x2="341.9" y2="786" stroke="#555" stroke-width="1" />
<line x1="366.8" y1="786" x2="373.6" y2="786" stroke="#333" stroke-width="1.1" />
<line x1="370.2" y1="782.7" x2="370.2" y2="789.3" stroke="#333" stroke-width="1.1" />
<line x1="398.7" y1="786" x2="405.7" y2="786" stroke="#555" stroke-width="1" />
<line x1="427.8" y1="786" x2="434.8" y2="786" stroke="#555" stroke-width="1" />
<line x1="459.7" y1="786" x2="466.7" y2="786" stroke="#555" stroke-width="1" />
<line x1="491.5" y1="786" x2="498.5" y2="786" stroke="#555" stroke-width="1" />
<text x="320.3" y="803.5" font-size="12.3" text-anchor="end" fill="#1a1a1a" font-weight="normal" stroke="#1a1a1a" stroke-width="0.28" >MV lipids</text>
<line x1="334.9" y1="801.2" x2="341.9" y2="801.2" stroke="#555" stroke-width="1" />
<line x1="366.7" y1="801.2" x2="373.7" y2="801.2" stroke="#555" stroke-width="1" />
<line x1="398.8" y1="801.2" x2="405.6" y2="801.2" stroke="#333" stroke-width="1.1" />
<line x1="402.2" y1="797.9" x2="402.2" y2="804.5" stroke="#333" stroke-width="1.1" />
<line x1="427.8" y1="801.2" x2="434.8" y2="801.2" stroke="#555" stroke-width="1" />
<line x1="459.8" y1="801.2" x2="466.6" y2="801.2" stroke="#333" stroke-width="1.1" />
<line x1="463.2" y1="797.9" x2="463.2" y2="804.5" stroke="#333" stroke-width="1.1" />
<line x1="491.5" y1="801.2" x2="498.5" y2="801.2" stroke="#555" stroke-width="1" />
<text x="319.2" y="818.7" font-size="12.3" text-anchor="end" fill="#1a1a1a" font-weight="normal" stroke="#1a1a1a" stroke-width="0.28" >liposomes</text>
<line x1="334.9" y1="816.4" x2="341.9" y2="816.4" stroke="#555" stroke-width="1" />
<line x1="366.7" y1="816.4" x2="373.7" y2="816.4" stroke="#555" stroke-width="1" />
<line x1="398.7" y1="816.4" x2="405.7" y2="816.4" stroke="#555" stroke-width="1" />
<line x1="427.9" y1="816.4" x2="434.7" y2="816.4" stroke="#333" stroke-width="1.1" />
<line x1="431.3" y1="813.1" x2="431.3" y2="819.7" stroke="#333" stroke-width="1.1" />
<line x1="459.7" y1="816.4" x2="466.7" y2="816.4" stroke="#555" stroke-width="1" />
<line x1="491.6" y1="816.4" x2="498.4" y2="816.4" stroke="#333" stroke-width="1.1" />
<line x1="495" y1="813.1" x2="495" y2="819.7" stroke="#333" stroke-width="1.1" />
</svg></body></html>
